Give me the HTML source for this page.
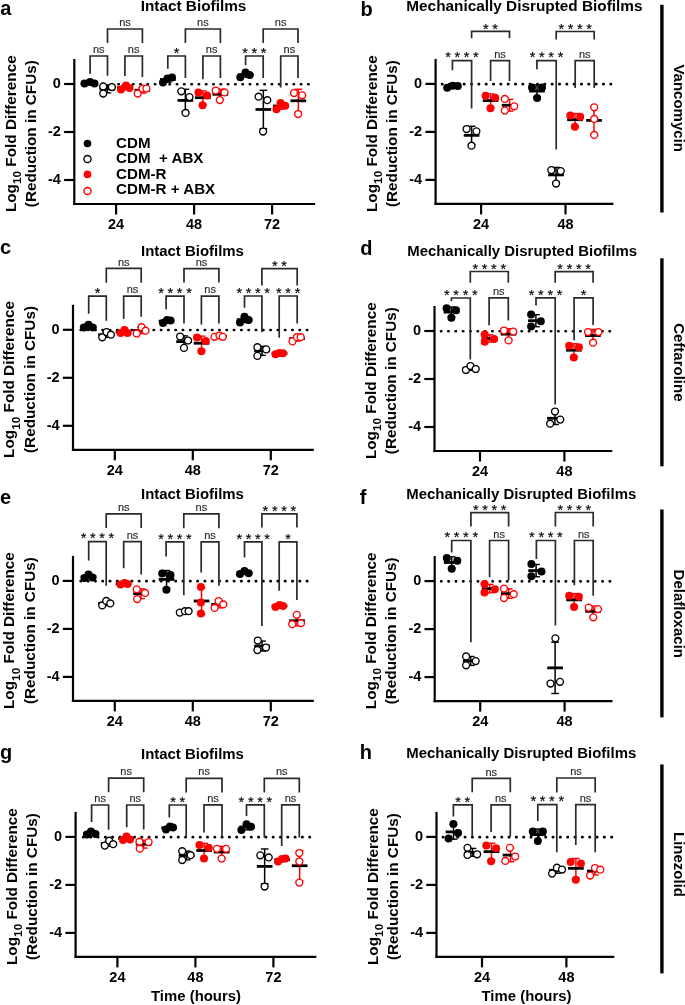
<!DOCTYPE html>
<html><head><meta charset="utf-8"><style>
html,body{margin:0;padding:0;background:#fff;}
svg{display:block;font-family:"Liberation Sans", sans-serif;filter:blur(0.4px);}
</style></head><body>
<svg width="685" height="1005" viewBox="0 0 685 1005">
<rect width="685" height="1005" fill="#fff"/>
<line x1="308.60" y1="84.25" x2="79.80" y2="84.25" stroke="#000" stroke-width="2.6" stroke-linecap="round" stroke-dasharray="0.4 6.90"/>
<line x1="74.30" y1="59.00" x2="74.30" y2="205.10" stroke="#000" stroke-width="2.2" />
<line x1="73.20" y1="204.00" x2="315.10" y2="204.00" stroke="#000" stroke-width="2.2" />
<line x1="64.10" y1="84.00" x2="74.30" y2="84.00" stroke="#000" stroke-width="2.2" />
<text x="60.90" y="88.30" font-size="14.5" font-weight="bold" text-anchor="end" fill="#000" >0</text>
<line x1="64.10" y1="132.00" x2="74.30" y2="132.00" stroke="#000" stroke-width="2.2" />
<text x="60.90" y="136.30" font-size="14.5" font-weight="bold" text-anchor="end" fill="#000" >-2</text>
<line x1="64.10" y1="180.00" x2="74.30" y2="180.00" stroke="#000" stroke-width="2.2" />
<text x="60.90" y="184.30" font-size="14.5" font-weight="bold" text-anchor="end" fill="#000" >-4</text>
<line x1="116.10" y1="204.00" x2="116.10" y2="214.50" stroke="#000" stroke-width="2.2" />
<text x="116.10" y="229.20" font-size="14.5" font-weight="bold" text-anchor="middle" fill="#000" >24</text>
<line x1="194.10" y1="204.00" x2="194.10" y2="214.50" stroke="#000" stroke-width="2.2" />
<text x="194.10" y="229.20" font-size="14.5" font-weight="bold" text-anchor="middle" fill="#000" >48</text>
<line x1="272.10" y1="204.00" x2="272.10" y2="214.50" stroke="#000" stroke-width="2.2" />
<text x="272.10" y="229.20" font-size="14.5" font-weight="bold" text-anchor="middle" fill="#000" >72</text>
<text transform="translate(15.60,133.70) rotate(-90)" font-size="15.3" font-weight="bold" text-anchor="middle">Log<tspan font-size="11.8" dy="5.2">10</tspan><tspan dy="-5.2"> Fold Difference</tspan></text>
<text transform="translate(36.00,133.70) rotate(-90)" font-size="15.3" font-weight="bold" text-anchor="middle">(Reduction in CFUs)</text>
<text x="140.70" y="10.80" font-size="15.35" font-weight="bold" text-anchor="start" fill="#000" >Intact Biofilms</text>
<text x="0.30" y="14.90" font-size="20" font-weight="bold" text-anchor="start" fill="#000" >a</text>
<line x1="611.00" y1="84.15" x2="441.10" y2="84.15" stroke="#000" stroke-width="2.6" stroke-linecap="round" stroke-dasharray="0.4 6.93"/>
<line x1="435.60" y1="58.90" x2="435.60" y2="205.00" stroke="#000" stroke-width="2.2" />
<line x1="434.50" y1="203.90" x2="613.40" y2="203.90" stroke="#000" stroke-width="2.2" />
<line x1="425.40" y1="83.90" x2="435.60" y2="83.90" stroke="#000" stroke-width="2.2" />
<text x="422.20" y="88.20" font-size="14.5" font-weight="bold" text-anchor="end" fill="#000" >0</text>
<line x1="425.40" y1="131.90" x2="435.60" y2="131.90" stroke="#000" stroke-width="2.2" />
<text x="422.20" y="136.20" font-size="14.5" font-weight="bold" text-anchor="end" fill="#000" >-2</text>
<line x1="425.40" y1="179.90" x2="435.60" y2="179.90" stroke="#000" stroke-width="2.2" />
<text x="422.20" y="184.20" font-size="14.5" font-weight="bold" text-anchor="end" fill="#000" >-4</text>
<line x1="481.10" y1="203.90" x2="481.10" y2="214.40" stroke="#000" stroke-width="2.2" />
<text x="481.10" y="229.10" font-size="14.5" font-weight="bold" text-anchor="middle" fill="#000" >24</text>
<line x1="565.50" y1="203.90" x2="565.50" y2="214.40" stroke="#000" stroke-width="2.2" />
<text x="565.50" y="229.10" font-size="14.5" font-weight="bold" text-anchor="middle" fill="#000" >48</text>
<text transform="translate(376.90,133.60) rotate(-90)" font-size="15.3" font-weight="bold" text-anchor="middle">Log<tspan font-size="11.8" dy="5.2">10</tspan><tspan dy="-5.2"> Fold Difference</tspan></text>
<text transform="translate(397.30,133.60) rotate(-90)" font-size="15.3" font-weight="bold" text-anchor="middle">(Reduction in CFUs)</text>
<text x="406.30" y="10.80" font-size="15.35" font-weight="bold" text-anchor="start" fill="#000" >Mechanically Disrupted Biofilms</text>
<text x="360.50" y="15.60" font-size="20" font-weight="bold" text-anchor="start" fill="#000" >b</text>
<line x1="307.30" y1="330.05" x2="78.50" y2="330.05" stroke="#000" stroke-width="2.6" stroke-linecap="round" stroke-dasharray="0.4 6.90"/>
<line x1="73.00" y1="304.80" x2="73.00" y2="450.90" stroke="#000" stroke-width="2.2" />
<line x1="71.90" y1="449.80" x2="313.80" y2="449.80" stroke="#000" stroke-width="2.2" />
<line x1="62.80" y1="329.80" x2="73.00" y2="329.80" stroke="#000" stroke-width="2.2" />
<text x="59.60" y="334.10" font-size="14.5" font-weight="bold" text-anchor="end" fill="#000" >0</text>
<line x1="62.80" y1="377.80" x2="73.00" y2="377.80" stroke="#000" stroke-width="2.2" />
<text x="59.60" y="382.10" font-size="14.5" font-weight="bold" text-anchor="end" fill="#000" >-2</text>
<line x1="62.80" y1="425.80" x2="73.00" y2="425.80" stroke="#000" stroke-width="2.2" />
<text x="59.60" y="430.10" font-size="14.5" font-weight="bold" text-anchor="end" fill="#000" >-4</text>
<line x1="114.80" y1="449.80" x2="114.80" y2="460.30" stroke="#000" stroke-width="2.2" />
<text x="114.80" y="475.00" font-size="14.5" font-weight="bold" text-anchor="middle" fill="#000" >24</text>
<line x1="192.80" y1="449.80" x2="192.80" y2="460.30" stroke="#000" stroke-width="2.2" />
<text x="192.80" y="475.00" font-size="14.5" font-weight="bold" text-anchor="middle" fill="#000" >48</text>
<line x1="270.80" y1="449.80" x2="270.80" y2="460.30" stroke="#000" stroke-width="2.2" />
<text x="270.80" y="475.00" font-size="14.5" font-weight="bold" text-anchor="middle" fill="#000" >72</text>
<text transform="translate(14.30,379.50) rotate(-90)" font-size="15.3" font-weight="bold" text-anchor="middle">Log<tspan font-size="11.8" dy="5.2">10</tspan><tspan dy="-5.2"> Fold Difference</tspan></text>
<text transform="translate(34.70,379.50) rotate(-90)" font-size="15.3" font-weight="bold" text-anchor="middle">(Reduction in CFUs)</text>
<text x="141.00" y="256.00" font-size="14.95" font-weight="bold" text-anchor="start" fill="#000" >Intact Biofilms</text>
<text x="0.00" y="254.20" font-size="20" font-weight="bold" text-anchor="start" fill="#000" >c</text>
<line x1="609.90" y1="331.25" x2="440.00" y2="331.25" stroke="#000" stroke-width="2.6" stroke-linecap="round" stroke-dasharray="0.4 6.93"/>
<line x1="434.50" y1="306.00" x2="434.50" y2="452.10" stroke="#000" stroke-width="2.2" />
<line x1="433.40" y1="451.00" x2="612.30" y2="451.00" stroke="#000" stroke-width="2.2" />
<line x1="424.30" y1="331.00" x2="434.50" y2="331.00" stroke="#000" stroke-width="2.2" />
<text x="421.10" y="335.30" font-size="14.5" font-weight="bold" text-anchor="end" fill="#000" >0</text>
<line x1="424.30" y1="379.00" x2="434.50" y2="379.00" stroke="#000" stroke-width="2.2" />
<text x="421.10" y="383.30" font-size="14.5" font-weight="bold" text-anchor="end" fill="#000" >-2</text>
<line x1="424.30" y1="427.00" x2="434.50" y2="427.00" stroke="#000" stroke-width="2.2" />
<text x="421.10" y="431.30" font-size="14.5" font-weight="bold" text-anchor="end" fill="#000" >-4</text>
<line x1="480.00" y1="451.00" x2="480.00" y2="461.50" stroke="#000" stroke-width="2.2" />
<text x="480.00" y="476.20" font-size="14.5" font-weight="bold" text-anchor="middle" fill="#000" >24</text>
<line x1="564.40" y1="451.00" x2="564.40" y2="461.50" stroke="#000" stroke-width="2.2" />
<text x="564.40" y="476.20" font-size="14.5" font-weight="bold" text-anchor="middle" fill="#000" >48</text>
<text transform="translate(375.80,380.70) rotate(-90)" font-size="15.3" font-weight="bold" text-anchor="middle">Log<tspan font-size="11.8" dy="5.2">10</tspan><tspan dy="-5.2"> Fold Difference</tspan></text>
<text transform="translate(396.20,380.70) rotate(-90)" font-size="15.3" font-weight="bold" text-anchor="middle">(Reduction in CFUs)</text>
<text x="407.20" y="255.90" font-size="14.95" font-weight="bold" text-anchor="start" fill="#000" >Mechanically Disrupted Biofilms</text>
<text x="360.30" y="255.00" font-size="20" font-weight="bold" text-anchor="start" fill="#000" >d</text>
<line x1="307.30" y1="581.15" x2="78.50" y2="581.15" stroke="#000" stroke-width="2.6" stroke-linecap="round" stroke-dasharray="0.4 6.90"/>
<line x1="73.00" y1="555.90" x2="73.00" y2="702.00" stroke="#000" stroke-width="2.2" />
<line x1="71.90" y1="700.90" x2="313.80" y2="700.90" stroke="#000" stroke-width="2.2" />
<line x1="62.80" y1="580.90" x2="73.00" y2="580.90" stroke="#000" stroke-width="2.2" />
<text x="59.60" y="585.20" font-size="14.5" font-weight="bold" text-anchor="end" fill="#000" >0</text>
<line x1="62.80" y1="628.90" x2="73.00" y2="628.90" stroke="#000" stroke-width="2.2" />
<text x="59.60" y="633.20" font-size="14.5" font-weight="bold" text-anchor="end" fill="#000" >-2</text>
<line x1="62.80" y1="676.90" x2="73.00" y2="676.90" stroke="#000" stroke-width="2.2" />
<text x="59.60" y="681.20" font-size="14.5" font-weight="bold" text-anchor="end" fill="#000" >-4</text>
<line x1="114.80" y1="700.90" x2="114.80" y2="711.40" stroke="#000" stroke-width="2.2" />
<text x="114.80" y="726.10" font-size="14.5" font-weight="bold" text-anchor="middle" fill="#000" >24</text>
<line x1="192.80" y1="700.90" x2="192.80" y2="711.40" stroke="#000" stroke-width="2.2" />
<text x="192.80" y="726.10" font-size="14.5" font-weight="bold" text-anchor="middle" fill="#000" >48</text>
<line x1="270.80" y1="700.90" x2="270.80" y2="711.40" stroke="#000" stroke-width="2.2" />
<text x="270.80" y="726.10" font-size="14.5" font-weight="bold" text-anchor="middle" fill="#000" >72</text>
<text transform="translate(14.30,630.60) rotate(-90)" font-size="15.3" font-weight="bold" text-anchor="middle">Log<tspan font-size="11.8" dy="5.2">10</tspan><tspan dy="-5.2"> Fold Difference</tspan></text>
<text transform="translate(34.70,630.60) rotate(-90)" font-size="15.3" font-weight="bold" text-anchor="middle">(Reduction in CFUs)</text>
<text x="141.00" y="499.00" font-size="14.95" font-weight="bold" text-anchor="start" fill="#000" >Intact Biofilms</text>
<text x="0.00" y="503.60" font-size="20" font-weight="bold" text-anchor="start" fill="#000" >e</text>
<line x1="610.10" y1="581.35" x2="440.20" y2="581.35" stroke="#000" stroke-width="2.6" stroke-linecap="round" stroke-dasharray="0.4 6.93"/>
<line x1="434.70" y1="556.10" x2="434.70" y2="702.20" stroke="#000" stroke-width="2.2" />
<line x1="433.60" y1="701.10" x2="612.50" y2="701.10" stroke="#000" stroke-width="2.2" />
<line x1="424.50" y1="581.10" x2="434.70" y2="581.10" stroke="#000" stroke-width="2.2" />
<text x="421.30" y="585.40" font-size="14.5" font-weight="bold" text-anchor="end" fill="#000" >0</text>
<line x1="424.50" y1="629.10" x2="434.70" y2="629.10" stroke="#000" stroke-width="2.2" />
<text x="421.30" y="633.40" font-size="14.5" font-weight="bold" text-anchor="end" fill="#000" >-2</text>
<line x1="424.50" y1="677.10" x2="434.70" y2="677.10" stroke="#000" stroke-width="2.2" />
<text x="421.30" y="681.40" font-size="14.5" font-weight="bold" text-anchor="end" fill="#000" >-4</text>
<line x1="480.20" y1="701.10" x2="480.20" y2="711.60" stroke="#000" stroke-width="2.2" />
<text x="480.20" y="726.30" font-size="14.5" font-weight="bold" text-anchor="middle" fill="#000" >24</text>
<line x1="564.60" y1="701.10" x2="564.60" y2="711.60" stroke="#000" stroke-width="2.2" />
<text x="564.60" y="726.30" font-size="14.5" font-weight="bold" text-anchor="middle" fill="#000" >48</text>
<text transform="translate(376.00,630.80) rotate(-90)" font-size="15.3" font-weight="bold" text-anchor="middle">Log<tspan font-size="11.8" dy="5.2">10</tspan><tspan dy="-5.2"> Fold Difference</tspan></text>
<text transform="translate(396.40,630.80) rotate(-90)" font-size="15.3" font-weight="bold" text-anchor="middle">(Reduction in CFUs)</text>
<text x="406.30" y="499.40" font-size="14.95" font-weight="bold" text-anchor="start" fill="#000" >Mechanically Disrupted Biofilms</text>
<text x="359.80" y="503.70" font-size="20" font-weight="bold" text-anchor="start" fill="#000" >f</text>
<line x1="309.90" y1="837.15" x2="81.10" y2="837.15" stroke="#000" stroke-width="2.6" stroke-linecap="round" stroke-dasharray="0.4 6.90"/>
<line x1="75.60" y1="811.90" x2="75.60" y2="958.00" stroke="#000" stroke-width="2.2" />
<line x1="74.50" y1="956.90" x2="316.40" y2="956.90" stroke="#000" stroke-width="2.2" />
<line x1="65.40" y1="836.90" x2="75.60" y2="836.90" stroke="#000" stroke-width="2.2" />
<text x="62.20" y="841.20" font-size="14.5" font-weight="bold" text-anchor="end" fill="#000" >0</text>
<line x1="65.40" y1="884.90" x2="75.60" y2="884.90" stroke="#000" stroke-width="2.2" />
<text x="62.20" y="889.20" font-size="14.5" font-weight="bold" text-anchor="end" fill="#000" >-2</text>
<line x1="65.40" y1="932.90" x2="75.60" y2="932.90" stroke="#000" stroke-width="2.2" />
<text x="62.20" y="937.20" font-size="14.5" font-weight="bold" text-anchor="end" fill="#000" >-4</text>
<line x1="117.40" y1="956.90" x2="117.40" y2="967.40" stroke="#000" stroke-width="2.2" />
<text x="117.40" y="982.10" font-size="14.5" font-weight="bold" text-anchor="middle" fill="#000" >24</text>
<line x1="195.40" y1="956.90" x2="195.40" y2="967.40" stroke="#000" stroke-width="2.2" />
<text x="195.40" y="982.10" font-size="14.5" font-weight="bold" text-anchor="middle" fill="#000" >48</text>
<line x1="273.40" y1="956.90" x2="273.40" y2="967.40" stroke="#000" stroke-width="2.2" />
<text x="273.40" y="982.10" font-size="14.5" font-weight="bold" text-anchor="middle" fill="#000" >72</text>
<text transform="translate(16.90,886.60) rotate(-90)" font-size="15.3" font-weight="bold" text-anchor="middle">Log<tspan font-size="11.8" dy="5.2">10</tspan><tspan dy="-5.2"> Fold Difference</tspan></text>
<text transform="translate(37.30,886.60) rotate(-90)" font-size="15.3" font-weight="bold" text-anchor="middle">(Reduction in CFUs)</text>
<text x="141.00" y="758.80" font-size="14.95" font-weight="bold" text-anchor="start" fill="#000" >Intact Biofilms</text>
<text x="0.00" y="758.50" font-size="20" font-weight="bold" text-anchor="start" fill="#000" >g</text>
<line x1="611.90" y1="837.15" x2="442.00" y2="837.15" stroke="#000" stroke-width="2.6" stroke-linecap="round" stroke-dasharray="0.4 6.93"/>
<line x1="436.50" y1="811.90" x2="436.50" y2="958.00" stroke="#000" stroke-width="2.2" />
<line x1="435.40" y1="956.90" x2="614.30" y2="956.90" stroke="#000" stroke-width="2.2" />
<line x1="426.30" y1="836.90" x2="436.50" y2="836.90" stroke="#000" stroke-width="2.2" />
<text x="423.10" y="841.20" font-size="14.5" font-weight="bold" text-anchor="end" fill="#000" >0</text>
<line x1="426.30" y1="884.90" x2="436.50" y2="884.90" stroke="#000" stroke-width="2.2" />
<text x="423.10" y="889.20" font-size="14.5" font-weight="bold" text-anchor="end" fill="#000" >-2</text>
<line x1="426.30" y1="932.90" x2="436.50" y2="932.90" stroke="#000" stroke-width="2.2" />
<text x="423.10" y="937.20" font-size="14.5" font-weight="bold" text-anchor="end" fill="#000" >-4</text>
<line x1="482.00" y1="956.90" x2="482.00" y2="967.40" stroke="#000" stroke-width="2.2" />
<text x="482.00" y="982.10" font-size="14.5" font-weight="bold" text-anchor="middle" fill="#000" >24</text>
<line x1="566.40" y1="956.90" x2="566.40" y2="967.40" stroke="#000" stroke-width="2.2" />
<text x="566.40" y="982.10" font-size="14.5" font-weight="bold" text-anchor="middle" fill="#000" >48</text>
<text transform="translate(377.80,886.60) rotate(-90)" font-size="15.3" font-weight="bold" text-anchor="middle">Log<tspan font-size="11.8" dy="5.2">10</tspan><tspan dy="-5.2"> Fold Difference</tspan></text>
<text transform="translate(398.20,886.60) rotate(-90)" font-size="15.3" font-weight="bold" text-anchor="middle">(Reduction in CFUs)</text>
<text x="406.30" y="758.40" font-size="14.95" font-weight="bold" text-anchor="start" fill="#000" >Mechanically Disrupted Biofilms</text>
<text x="359.80" y="758.70" font-size="20" font-weight="bold" text-anchor="start" fill="#000" >h</text>
<line x1="661.90" y1="4.80" x2="661.90" y2="212.50" stroke="#000" stroke-width="3.4" />
<text transform="translate(673.6,108.20) rotate(90)" font-size="15" font-weight="bold" text-anchor="middle">Vancomycin</text>
<line x1="661.90" y1="258.30" x2="661.90" y2="466.30" stroke="#000" stroke-width="3.4" />
<text transform="translate(673.6,362.30) rotate(90)" font-size="15" font-weight="bold" text-anchor="middle">Ceftaroline</text>
<line x1="661.90" y1="509.50" x2="661.90" y2="717.40" stroke="#000" stroke-width="3.4" />
<text transform="translate(673.6,613.80) rotate(90)" font-size="15" font-weight="bold" text-anchor="middle">Delafloxacin</text>
<line x1="661.90" y1="764.50" x2="661.90" y2="973.40" stroke="#000" stroke-width="3.4" />
<text transform="translate(673.6,864.50) rotate(90)" font-size="15" font-weight="bold" text-anchor="middle">Linezolid</text>
<text x="196.00" y="1001.00" font-size="14.9" font-weight="bold" text-anchor="middle" fill="#000" >Time (hours)</text>
<text x="526.50" y="1001.00" font-size="14.9" font-weight="bold" text-anchor="middle" fill="#000" >Time (hours)</text>
<circle cx="87.5" cy="143.50" r="3.8" fill="#000"/>
<text x="116.10" y="147.80" font-size="15.15" font-weight="bold" text-anchor="start" fill="#000" >CDM</text>
<circle cx="87.5" cy="159.00" r="3.55" fill="#fff" stroke="#000" stroke-width="1.4"/>
<text x="116.10" y="163.35" font-size="15.15" font-weight="bold" text-anchor="start" fill="#000" >CDM&#160; + ABX</text>
<circle cx="87.5" cy="174.40" r="3.8" fill="#f00"/>
<text x="116.10" y="178.90" font-size="15.15" font-weight="bold" text-anchor="start" fill="#000" >CDM-R</text>
<circle cx="87.5" cy="191.00" r="3.55" fill="#fff" stroke="#f00" stroke-width="1.4"/>
<text x="116.10" y="194.45" font-size="15.15" font-weight="bold" text-anchor="start" fill="#000" >CDM-R + ABX</text>
<path d="M90.10,73.70 V56.00 H107.50 V75.70" fill="none" stroke="#2a2a2a" stroke-width="1.7"/>
<text x="98.80" y="53.10" font-size="11" font-weight="normal" text-anchor="middle" fill="#2a2a2a" stroke="#2a2a2a" stroke-width="0.15">ns</text>
<path d="M124.90,76.00 V56.00 H142.40 V77.00" fill="none" stroke="#2a2a2a" stroke-width="1.7"/>
<text x="133.65" y="53.10" font-size="11" font-weight="normal" text-anchor="middle" fill="#2a2a2a" stroke="#2a2a2a" stroke-width="0.15">ns</text>
<path d="M107.50,43.00 V29.00 H142.40 V43.00" fill="none" stroke="#2a2a2a" stroke-width="1.7"/>
<text x="124.95" y="26.10" font-size="11" font-weight="normal" text-anchor="middle" fill="#2a2a2a" stroke="#2a2a2a" stroke-width="0.15">ns</text>
<path d="M167.80,68.70 V56.00 H185.40 V78.10" fill="none" stroke="#2a2a2a" stroke-width="1.7"/>
<text x="176.60" y="57.70" font-size="14.5" font-weight="normal" text-anchor="middle" fill="#000" stroke="#000" stroke-width="0.15">*</text>
<path d="M202.90,79.20 V56.00 H220.40 V78.10" fill="none" stroke="#2a2a2a" stroke-width="1.7"/>
<text x="211.65" y="53.10" font-size="11" font-weight="normal" text-anchor="middle" fill="#2a2a2a" stroke="#2a2a2a" stroke-width="0.15">ns</text>
<path d="M185.40,43.00 V29.00 H220.40 V43.00" fill="none" stroke="#2a2a2a" stroke-width="1.7"/>
<text x="202.90" y="26.10" font-size="11" font-weight="normal" text-anchor="middle" fill="#2a2a2a" stroke="#2a2a2a" stroke-width="0.15">ns</text>
<path d="M245.60,65.20 V56.00 H263.20 V78.10" fill="none" stroke="#2a2a2a" stroke-width="1.7"/>
<text x="245.10" y="57.70" font-size="14.5" font-weight="normal" text-anchor="middle" fill="#000" stroke="#000" stroke-width="0.15">*</text>
<text x="254.40" y="57.70" font-size="14.5" font-weight="normal" text-anchor="middle" fill="#000" stroke="#000" stroke-width="0.15">*</text>
<text x="263.70" y="57.70" font-size="14.5" font-weight="normal" text-anchor="middle" fill="#000" stroke="#000" stroke-width="0.15">*</text>
<path d="M280.70,87.40 V56.00 H298.00 V78.10" fill="none" stroke="#2a2a2a" stroke-width="1.7"/>
<text x="289.35" y="53.10" font-size="11" font-weight="normal" text-anchor="middle" fill="#2a2a2a" stroke="#2a2a2a" stroke-width="0.15">ns</text>
<path d="M263.20,43.00 V29.00 H298.00 V43.00" fill="none" stroke="#2a2a2a" stroke-width="1.7"/>
<text x="280.60" y="26.10" font-size="11" font-weight="normal" text-anchor="middle" fill="#2a2a2a" stroke="#2a2a2a" stroke-width="0.15">ns</text>
<line x1="89.85" y1="82.13" x2="89.85" y2="83.87" stroke="#000" stroke-width="1.5" />
<line x1="86.00" y1="82.13" x2="93.70" y2="82.13" stroke="#000" stroke-width="1.4" />
<line x1="86.00" y1="83.87" x2="93.70" y2="83.87" stroke="#000" stroke-width="1.4" />
<line x1="82.00" y1="83.00" x2="97.70" y2="83.00" stroke="#000" stroke-width="2.8" />
<circle cx="84.50" cy="83.50" r="4.0" fill="#000"/>
<circle cx="90.00" cy="82.00" r="4.0" fill="#000"/>
<circle cx="94.50" cy="83.50" r="4.0" fill="#000"/>
<line x1="107.35" y1="85.03" x2="107.35" y2="92.90" stroke="#000" stroke-width="1.5" />
<line x1="103.50" y1="85.03" x2="111.20" y2="85.03" stroke="#000" stroke-width="1.4" />
<line x1="103.50" y1="92.90" x2="111.20" y2="92.90" stroke="#000" stroke-width="1.4" />
<line x1="99.50" y1="88.97" x2="115.20" y2="88.97" stroke="#000" stroke-width="2.8" />
<circle cx="103.20" cy="86.40" r="3.45" fill="#fff" stroke="#000" stroke-width="1.35"/>
<circle cx="111.90" cy="87.00" r="3.45" fill="#fff" stroke="#000" stroke-width="1.35"/>
<circle cx="103.20" cy="93.50" r="3.45" fill="#fff" stroke="#000" stroke-width="1.35"/>
<line x1="124.85" y1="85.65" x2="124.85" y2="89.69" stroke="#f00" stroke-width="1.5" />
<line x1="121.00" y1="85.65" x2="128.70" y2="85.65" stroke="#f00" stroke-width="1.4" />
<line x1="121.00" y1="89.69" x2="128.70" y2="89.69" stroke="#f00" stroke-width="1.4" />
<line x1="117.00" y1="87.67" x2="132.70" y2="87.67" stroke="#000" stroke-width="2.8" />
<circle cx="121.00" cy="89.50" r="4.0" fill="#f00"/>
<circle cx="126.00" cy="85.50" r="4.0" fill="#f00"/>
<circle cx="129.50" cy="88.00" r="4.0" fill="#f00"/>
<line x1="142.35" y1="87.40" x2="142.35" y2="93.06" stroke="#f00" stroke-width="1.5" />
<line x1="138.50" y1="87.40" x2="146.20" y2="87.40" stroke="#f00" stroke-width="1.4" />
<line x1="138.50" y1="93.06" x2="146.20" y2="93.06" stroke="#f00" stroke-width="1.4" />
<line x1="134.50" y1="90.23" x2="150.20" y2="90.23" stroke="#000" stroke-width="2.8" />
<circle cx="137.70" cy="93.50" r="3.45" fill="#fff" stroke="#f00" stroke-width="1.35"/>
<circle cx="142.60" cy="88.60" r="3.45" fill="#fff" stroke="#f00" stroke-width="1.35"/>
<circle cx="146.40" cy="88.60" r="3.45" fill="#fff" stroke="#f00" stroke-width="1.35"/>
<line x1="167.85" y1="76.85" x2="167.85" y2="82.15" stroke="#000" stroke-width="1.5" />
<line x1="164.00" y1="76.85" x2="171.70" y2="76.85" stroke="#000" stroke-width="1.4" />
<line x1="164.00" y1="82.15" x2="171.70" y2="82.15" stroke="#000" stroke-width="1.4" />
<line x1="160.00" y1="79.50" x2="175.70" y2="79.50" stroke="#000" stroke-width="2.8" />
<circle cx="163.00" cy="82.50" r="4.0" fill="#000"/>
<circle cx="167.50" cy="78.50" r="4.0" fill="#000"/>
<circle cx="172.00" cy="77.50" r="4.0" fill="#000"/>
<line x1="185.35" y1="89.25" x2="185.35" y2="111.61" stroke="#000" stroke-width="1.5" />
<line x1="181.50" y1="89.25" x2="189.20" y2="89.25" stroke="#000" stroke-width="1.4" />
<line x1="181.50" y1="111.61" x2="189.20" y2="111.61" stroke="#000" stroke-width="1.4" />
<line x1="177.50" y1="100.43" x2="193.20" y2="100.43" stroke="#000" stroke-width="2.8" />
<circle cx="181.30" cy="91.30" r="3.45" fill="#fff" stroke="#000" stroke-width="1.35"/>
<circle cx="189.50" cy="97.10" r="3.45" fill="#fff" stroke="#000" stroke-width="1.35"/>
<circle cx="185.60" cy="112.90" r="3.45" fill="#fff" stroke="#000" stroke-width="1.35"/>
<line x1="202.85" y1="90.95" x2="202.85" y2="104.45" stroke="#f00" stroke-width="1.5" />
<line x1="199.00" y1="90.95" x2="206.70" y2="90.95" stroke="#f00" stroke-width="1.4" />
<line x1="199.00" y1="104.45" x2="206.70" y2="104.45" stroke="#f00" stroke-width="1.4" />
<line x1="195.00" y1="97.70" x2="210.70" y2="97.70" stroke="#000" stroke-width="2.8" />
<circle cx="198.40" cy="92.40" r="4.0" fill="#f00"/>
<circle cx="207.00" cy="95.40" r="4.0" fill="#f00"/>
<circle cx="202.60" cy="105.30" r="4.0" fill="#f00"/>
<line x1="220.35" y1="89.27" x2="220.35" y2="99.33" stroke="#f00" stroke-width="1.5" />
<line x1="216.50" y1="89.27" x2="224.20" y2="89.27" stroke="#f00" stroke-width="1.4" />
<line x1="216.50" y1="99.33" x2="224.20" y2="99.33" stroke="#f00" stroke-width="1.4" />
<line x1="212.50" y1="94.30" x2="228.20" y2="94.30" stroke="#000" stroke-width="2.8" />
<circle cx="215.70" cy="90.50" r="3.45" fill="#fff" stroke="#f00" stroke-width="1.35"/>
<circle cx="224.50" cy="92.40" r="3.45" fill="#fff" stroke="#f00" stroke-width="1.35"/>
<circle cx="219.80" cy="100.00" r="3.45" fill="#fff" stroke="#f00" stroke-width="1.35"/>
<line x1="245.85" y1="72.52" x2="245.85" y2="77.22" stroke="#000" stroke-width="1.5" />
<line x1="242.00" y1="72.52" x2="249.70" y2="72.52" stroke="#000" stroke-width="1.4" />
<line x1="242.00" y1="77.22" x2="249.70" y2="77.22" stroke="#000" stroke-width="1.4" />
<line x1="238.00" y1="74.87" x2="253.70" y2="74.87" stroke="#000" stroke-width="2.8" />
<circle cx="240.30" cy="77.20" r="4.0" fill="#000"/>
<circle cx="245.50" cy="72.50" r="4.0" fill="#000"/>
<circle cx="249.60" cy="74.90" r="4.0" fill="#000"/>
<line x1="263.35" y1="90.31" x2="263.35" y2="128.63" stroke="#000" stroke-width="1.5" />
<line x1="259.50" y1="90.31" x2="267.20" y2="90.31" stroke="#000" stroke-width="1.4" />
<line x1="259.50" y1="128.63" x2="267.20" y2="128.63" stroke="#000" stroke-width="1.4" />
<line x1="255.50" y1="109.47" x2="271.20" y2="109.47" stroke="#000" stroke-width="2.8" />
<circle cx="258.60" cy="96.70" r="3.45" fill="#fff" stroke="#000" stroke-width="1.35"/>
<circle cx="267.30" cy="100.20" r="3.45" fill="#fff" stroke="#000" stroke-width="1.35"/>
<circle cx="263.10" cy="131.50" r="3.45" fill="#fff" stroke="#000" stroke-width="1.35"/>
<line x1="280.85" y1="102.80" x2="280.85" y2="109.20" stroke="#f00" stroke-width="1.5" />
<line x1="277.00" y1="102.80" x2="284.70" y2="102.80" stroke="#f00" stroke-width="1.4" />
<line x1="277.00" y1="109.20" x2="284.70" y2="109.20" stroke="#f00" stroke-width="1.4" />
<line x1="273.00" y1="106.00" x2="288.70" y2="106.00" stroke="#000" stroke-width="2.8" />
<circle cx="276.50" cy="109.30" r="4.0" fill="#f00"/>
<circle cx="280.50" cy="102.90" r="4.0" fill="#f00"/>
<circle cx="285.20" cy="105.80" r="4.0" fill="#f00"/>
<line x1="298.35" y1="89.25" x2="298.35" y2="112.28" stroke="#f00" stroke-width="1.5" />
<line x1="294.50" y1="89.25" x2="302.20" y2="89.25" stroke="#f00" stroke-width="1.4" />
<line x1="294.50" y1="112.28" x2="302.20" y2="112.28" stroke="#f00" stroke-width="1.4" />
<line x1="290.50" y1="100.77" x2="306.20" y2="100.77" stroke="#000" stroke-width="2.8" />
<circle cx="294.00" cy="93.00" r="3.45" fill="#fff" stroke="#f00" stroke-width="1.35"/>
<circle cx="302.20" cy="95.30" r="3.45" fill="#fff" stroke="#f00" stroke-width="1.35"/>
<circle cx="298.10" cy="114.00" r="3.45" fill="#fff" stroke="#f00" stroke-width="1.35"/>
<path d="M452.40,70.20 V60.70 H471.60 V108.50" fill="none" stroke="#2a2a2a" stroke-width="1.7"/>
<text x="448.05" y="62.40" font-size="14.5" font-weight="normal" text-anchor="middle" fill="#000" stroke="#000" stroke-width="0.15">*</text>
<text x="457.35" y="62.40" font-size="14.5" font-weight="normal" text-anchor="middle" fill="#000" stroke="#000" stroke-width="0.15">*</text>
<text x="466.65" y="62.40" font-size="14.5" font-weight="normal" text-anchor="middle" fill="#000" stroke="#000" stroke-width="0.15">*</text>
<text x="475.95" y="62.40" font-size="14.5" font-weight="normal" text-anchor="middle" fill="#000" stroke="#000" stroke-width="0.15">*</text>
<path d="M490.60,81.00 V60.70 H509.50 V81.00" fill="none" stroke="#2a2a2a" stroke-width="1.7"/>
<text x="500.05" y="57.80" font-size="11" font-weight="normal" text-anchor="middle" fill="#2a2a2a" stroke="#2a2a2a" stroke-width="0.15">ns</text>
<path d="M471.60,38.30 V31.40 H509.50 V38.30" fill="none" stroke="#2a2a2a" stroke-width="1.7"/>
<text x="485.90" y="33.90" font-size="14.5" font-weight="normal" text-anchor="middle" fill="#000" stroke="#000" stroke-width="0.15">*</text>
<text x="495.20" y="33.90" font-size="14.5" font-weight="normal" text-anchor="middle" fill="#000" stroke="#000" stroke-width="0.15">*</text>
<path d="M536.90,69.20 V60.60 H556.20 V149.40" fill="none" stroke="#2a2a2a" stroke-width="1.7"/>
<text x="532.60" y="62.30" font-size="14.5" font-weight="normal" text-anchor="middle" fill="#000" stroke="#000" stroke-width="0.15">*</text>
<text x="541.90" y="62.30" font-size="14.5" font-weight="normal" text-anchor="middle" fill="#000" stroke="#000" stroke-width="0.15">*</text>
<text x="551.20" y="62.30" font-size="14.5" font-weight="normal" text-anchor="middle" fill="#000" stroke="#000" stroke-width="0.15">*</text>
<text x="560.50" y="62.30" font-size="14.5" font-weight="normal" text-anchor="middle" fill="#000" stroke="#000" stroke-width="0.15">*</text>
<path d="M575.20,88.00 V60.60 H594.20 V88.00" fill="none" stroke="#2a2a2a" stroke-width="1.7"/>
<text x="584.70" y="57.70" font-size="11" font-weight="normal" text-anchor="middle" fill="#2a2a2a" stroke="#2a2a2a" stroke-width="0.15">ns</text>
<path d="M556.20,39.40 V31.50 H594.20 V39.40" fill="none" stroke="#2a2a2a" stroke-width="1.7"/>
<text x="561.25" y="34.00" font-size="14.5" font-weight="normal" text-anchor="middle" fill="#000" stroke="#000" stroke-width="0.15">*</text>
<text x="570.55" y="34.00" font-size="14.5" font-weight="normal" text-anchor="middle" fill="#000" stroke="#000" stroke-width="0.15">*</text>
<text x="579.85" y="34.00" font-size="14.5" font-weight="normal" text-anchor="middle" fill="#000" stroke="#000" stroke-width="0.15">*</text>
<text x="589.15" y="34.00" font-size="14.5" font-weight="normal" text-anchor="middle" fill="#000" stroke="#000" stroke-width="0.15">*</text>
<line x1="452.60" y1="85.42" x2="452.60" y2="87.65" stroke="#000" stroke-width="1.5" />
<line x1="448.75" y1="85.42" x2="456.45" y2="85.42" stroke="#000" stroke-width="1.4" />
<line x1="448.75" y1="87.65" x2="456.45" y2="87.65" stroke="#000" stroke-width="1.4" />
<line x1="444.75" y1="86.53" x2="460.45" y2="86.53" stroke="#000" stroke-width="2.8" />
<circle cx="447.20" cy="87.80" r="4.0" fill="#000"/>
<circle cx="452.80" cy="85.70" r="4.0" fill="#000"/>
<circle cx="457.80" cy="86.10" r="4.0" fill="#000"/>
<line x1="471.60" y1="126.28" x2="471.60" y2="144.38" stroke="#000" stroke-width="1.5" />
<line x1="467.75" y1="126.28" x2="475.45" y2="126.28" stroke="#000" stroke-width="1.4" />
<line x1="467.75" y1="144.38" x2="475.45" y2="144.38" stroke="#000" stroke-width="1.4" />
<line x1="463.75" y1="135.33" x2="479.45" y2="135.33" stroke="#000" stroke-width="2.8" />
<circle cx="466.60" cy="129.00" r="3.45" fill="#fff" stroke="#000" stroke-width="1.35"/>
<circle cx="476.40" cy="131.30" r="3.45" fill="#fff" stroke="#000" stroke-width="1.35"/>
<circle cx="471.50" cy="145.70" r="3.45" fill="#fff" stroke="#000" stroke-width="1.35"/>
<line x1="490.60" y1="93.92" x2="490.60" y2="107.35" stroke="#f00" stroke-width="1.5" />
<line x1="486.75" y1="93.92" x2="494.45" y2="93.92" stroke="#f00" stroke-width="1.4" />
<line x1="486.75" y1="107.35" x2="494.45" y2="107.35" stroke="#f00" stroke-width="1.4" />
<line x1="482.75" y1="100.63" x2="498.45" y2="100.63" stroke="#000" stroke-width="2.8" />
<circle cx="485.60" cy="95.80" r="4.0" fill="#f00"/>
<circle cx="495.10" cy="97.80" r="4.0" fill="#f00"/>
<circle cx="490.50" cy="108.30" r="4.0" fill="#f00"/>
<line x1="509.60" y1="99.35" x2="509.60" y2="111.18" stroke="#f00" stroke-width="1.5" />
<line x1="505.75" y1="99.35" x2="513.45" y2="99.35" stroke="#f00" stroke-width="1.4" />
<line x1="505.75" y1="111.18" x2="513.45" y2="111.18" stroke="#f00" stroke-width="1.4" />
<line x1="501.75" y1="105.27" x2="517.45" y2="105.27" stroke="#000" stroke-width="2.8" />
<circle cx="504.80" cy="98.90" r="3.45" fill="#fff" stroke="#f00" stroke-width="1.35"/>
<circle cx="514.20" cy="106.30" r="3.45" fill="#fff" stroke="#f00" stroke-width="1.35"/>
<circle cx="504.80" cy="110.60" r="3.45" fill="#fff" stroke="#f00" stroke-width="1.35"/>
<line x1="537.00" y1="85.04" x2="537.00" y2="97.16" stroke="#000" stroke-width="1.5" />
<line x1="533.15" y1="85.04" x2="540.85" y2="85.04" stroke="#000" stroke-width="1.4" />
<line x1="533.15" y1="97.16" x2="540.85" y2="97.16" stroke="#000" stroke-width="1.4" />
<line x1="529.15" y1="91.10" x2="544.85" y2="91.10" stroke="#000" stroke-width="2.8" />
<circle cx="532.00" cy="87.60" r="4.0" fill="#000"/>
<circle cx="542.00" cy="87.60" r="4.0" fill="#000"/>
<circle cx="537.10" cy="98.10" r="4.0" fill="#000"/>
<line x1="556.00" y1="167.44" x2="556.00" y2="182.36" stroke="#000" stroke-width="1.5" />
<line x1="552.15" y1="167.44" x2="559.85" y2="167.44" stroke="#000" stroke-width="1.4" />
<line x1="552.15" y1="182.36" x2="559.85" y2="182.36" stroke="#000" stroke-width="1.4" />
<line x1="548.15" y1="174.90" x2="563.85" y2="174.90" stroke="#000" stroke-width="2.8" />
<circle cx="551.30" cy="170.10" r="3.45" fill="#fff" stroke="#000" stroke-width="1.35"/>
<circle cx="560.70" cy="171.10" r="3.45" fill="#fff" stroke="#000" stroke-width="1.35"/>
<circle cx="556.10" cy="183.50" r="3.45" fill="#fff" stroke="#000" stroke-width="1.35"/>
<line x1="575.00" y1="113.52" x2="575.00" y2="125.88" stroke="#f00" stroke-width="1.5" />
<line x1="571.15" y1="113.52" x2="578.85" y2="113.52" stroke="#f00" stroke-width="1.4" />
<line x1="571.15" y1="125.88" x2="578.85" y2="125.88" stroke="#f00" stroke-width="1.4" />
<line x1="567.15" y1="119.70" x2="582.85" y2="119.70" stroke="#000" stroke-width="2.8" />
<circle cx="570.30" cy="115.50" r="4.0" fill="#f00"/>
<circle cx="580.20" cy="116.80" r="4.0" fill="#f00"/>
<circle cx="574.90" cy="126.80" r="4.0" fill="#f00"/>
<line x1="594.00" y1="106.51" x2="594.00" y2="134.22" stroke="#f00" stroke-width="1.5" />
<line x1="590.15" y1="106.51" x2="597.85" y2="106.51" stroke="#f00" stroke-width="1.4" />
<line x1="590.15" y1="134.22" x2="597.85" y2="134.22" stroke="#f00" stroke-width="1.4" />
<line x1="586.15" y1="120.37" x2="601.85" y2="120.37" stroke="#000" stroke-width="2.8" />
<circle cx="594.20" cy="107.30" r="3.45" fill="#fff" stroke="#f00" stroke-width="1.35"/>
<circle cx="594.20" cy="118.90" r="3.45" fill="#fff" stroke="#f00" stroke-width="1.35"/>
<circle cx="594.20" cy="134.90" r="3.45" fill="#fff" stroke="#f00" stroke-width="1.35"/>
<path d="M88.70,313.70 V296.10 H106.30 V320.70" fill="none" stroke="#2a2a2a" stroke-width="1.7"/>
<text x="97.50" y="297.80" font-size="14.5" font-weight="normal" text-anchor="middle" fill="#000" stroke="#000" stroke-width="0.15">*</text>
<path d="M123.70,319.00 V296.10 H141.20 V316.70" fill="none" stroke="#2a2a2a" stroke-width="1.7"/>
<text x="132.45" y="293.20" font-size="11" font-weight="normal" text-anchor="middle" fill="#2a2a2a" stroke="#2a2a2a" stroke-width="0.15">ns</text>
<path d="M106.30,282.70 V268.40 H141.20 V282.70" fill="none" stroke="#2a2a2a" stroke-width="1.7"/>
<text x="123.75" y="265.50" font-size="11" font-weight="normal" text-anchor="middle" fill="#2a2a2a" stroke="#2a2a2a" stroke-width="0.15">ns</text>
<path d="M166.10,309.30 V296.10 H184.00 V323.40" fill="none" stroke="#2a2a2a" stroke-width="1.7"/>
<text x="161.10" y="297.80" font-size="14.5" font-weight="normal" text-anchor="middle" fill="#000" stroke="#000" stroke-width="0.15">*</text>
<text x="170.40" y="297.80" font-size="14.5" font-weight="normal" text-anchor="middle" fill="#000" stroke="#000" stroke-width="0.15">*</text>
<text x="179.70" y="297.80" font-size="14.5" font-weight="normal" text-anchor="middle" fill="#000" stroke="#000" stroke-width="0.15">*</text>
<text x="189.00" y="297.80" font-size="14.5" font-weight="normal" text-anchor="middle" fill="#000" stroke="#000" stroke-width="0.15">*</text>
<path d="M201.40,324.50 V296.10 H218.90 V323.50" fill="none" stroke="#2a2a2a" stroke-width="1.7"/>
<text x="210.15" y="293.20" font-size="11" font-weight="normal" text-anchor="middle" fill="#2a2a2a" stroke="#2a2a2a" stroke-width="0.15">ns</text>
<path d="M184.00,282.60 V268.60 H218.90 V282.60" fill="none" stroke="#2a2a2a" stroke-width="1.7"/>
<text x="201.45" y="265.70" font-size="11" font-weight="normal" text-anchor="middle" fill="#2a2a2a" stroke="#2a2a2a" stroke-width="0.15">ns</text>
<path d="M244.50,307.70 V296.00 H261.90 V332.30" fill="none" stroke="#2a2a2a" stroke-width="1.7"/>
<text x="239.25" y="297.70" font-size="14.5" font-weight="normal" text-anchor="middle" fill="#000" stroke="#000" stroke-width="0.15">*</text>
<text x="248.55" y="297.70" font-size="14.5" font-weight="normal" text-anchor="middle" fill="#000" stroke="#000" stroke-width="0.15">*</text>
<text x="257.85" y="297.70" font-size="14.5" font-weight="normal" text-anchor="middle" fill="#000" stroke="#000" stroke-width="0.15">*</text>
<text x="267.15" y="297.70" font-size="14.5" font-weight="normal" text-anchor="middle" fill="#000" stroke="#000" stroke-width="0.15">*</text>
<path d="M279.20,337.80 V296.00 H297.20 V323.50" fill="none" stroke="#2a2a2a" stroke-width="1.7"/>
<text x="278.90" y="297.70" font-size="14.5" font-weight="normal" text-anchor="middle" fill="#000" stroke="#000" stroke-width="0.15">*</text>
<text x="288.20" y="297.70" font-size="14.5" font-weight="normal" text-anchor="middle" fill="#000" stroke="#000" stroke-width="0.15">*</text>
<text x="297.50" y="297.70" font-size="14.5" font-weight="normal" text-anchor="middle" fill="#000" stroke="#000" stroke-width="0.15">*</text>
<path d="M261.90,285.50 V268.70 H297.20 V285.50" fill="none" stroke="#2a2a2a" stroke-width="1.7"/>
<text x="274.90" y="271.20" font-size="14.5" font-weight="normal" text-anchor="middle" fill="#000" stroke="#000" stroke-width="0.15">*</text>
<text x="284.20" y="271.20" font-size="14.5" font-weight="normal" text-anchor="middle" fill="#000" stroke="#000" stroke-width="0.15">*</text>
<line x1="88.55" y1="325.04" x2="88.55" y2="328.16" stroke="#000" stroke-width="1.5" />
<line x1="84.70" y1="325.04" x2="92.40" y2="325.04" stroke="#000" stroke-width="1.4" />
<line x1="84.70" y1="328.16" x2="92.40" y2="328.16" stroke="#000" stroke-width="1.4" />
<line x1="80.70" y1="326.60" x2="96.40" y2="326.60" stroke="#000" stroke-width="2.8" />
<circle cx="83.80" cy="327.50" r="4.0" fill="#000"/>
<circle cx="88.50" cy="324.80" r="4.0" fill="#000"/>
<circle cx="92.70" cy="327.50" r="4.0" fill="#000"/>
<line x1="106.05" y1="332.10" x2="106.05" y2="337.30" stroke="#000" stroke-width="1.5" />
<line x1="102.20" y1="332.10" x2="109.90" y2="332.10" stroke="#000" stroke-width="1.4" />
<line x1="102.20" y1="337.30" x2="109.90" y2="337.30" stroke="#000" stroke-width="1.4" />
<line x1="98.20" y1="334.70" x2="113.90" y2="334.70" stroke="#000" stroke-width="2.8" />
<circle cx="102.20" cy="337.30" r="3.45" fill="#fff" stroke="#000" stroke-width="1.35"/>
<circle cx="106.50" cy="332.10" r="3.45" fill="#fff" stroke="#000" stroke-width="1.35"/>
<circle cx="110.90" cy="334.70" r="3.45" fill="#fff" stroke="#000" stroke-width="1.35"/>
<line x1="123.55" y1="330.27" x2="123.55" y2="333.73" stroke="#f00" stroke-width="1.5" />
<line x1="119.70" y1="330.27" x2="127.40" y2="330.27" stroke="#f00" stroke-width="1.4" />
<line x1="119.70" y1="333.73" x2="127.40" y2="333.73" stroke="#f00" stroke-width="1.4" />
<line x1="115.70" y1="332.00" x2="131.40" y2="332.00" stroke="#000" stroke-width="2.8" />
<circle cx="120.50" cy="333.00" r="4.0" fill="#f00"/>
<circle cx="124.50" cy="330.00" r="4.0" fill="#f00"/>
<circle cx="127.50" cy="333.00" r="4.0" fill="#f00"/>
<line x1="141.05" y1="327.31" x2="141.05" y2="333.62" stroke="#f00" stroke-width="1.5" />
<line x1="137.20" y1="327.31" x2="144.90" y2="327.31" stroke="#f00" stroke-width="1.4" />
<line x1="137.20" y1="333.62" x2="144.90" y2="333.62" stroke="#f00" stroke-width="1.4" />
<line x1="133.20" y1="330.47" x2="148.90" y2="330.47" stroke="#000" stroke-width="2.8" />
<circle cx="136.70" cy="333.50" r="3.45" fill="#fff" stroke="#f00" stroke-width="1.35"/>
<circle cx="141.60" cy="327.20" r="3.45" fill="#fff" stroke="#f00" stroke-width="1.35"/>
<circle cx="145.60" cy="330.70" r="3.45" fill="#fff" stroke="#f00" stroke-width="1.35"/>
<line x1="166.55" y1="319.56" x2="166.55" y2="322.77" stroke="#000" stroke-width="1.5" />
<line x1="162.70" y1="319.56" x2="170.40" y2="319.56" stroke="#000" stroke-width="1.4" />
<line x1="162.70" y1="322.77" x2="170.40" y2="322.77" stroke="#000" stroke-width="1.4" />
<line x1="158.70" y1="321.17" x2="174.40" y2="321.17" stroke="#000" stroke-width="2.8" />
<circle cx="163.00" cy="323.00" r="4.0" fill="#000"/>
<circle cx="167.00" cy="320.00" r="4.0" fill="#000"/>
<circle cx="170.50" cy="320.50" r="4.0" fill="#000"/>
<line x1="184.05" y1="335.85" x2="184.05" y2="347.42" stroke="#000" stroke-width="1.5" />
<line x1="180.20" y1="335.85" x2="187.90" y2="335.85" stroke="#000" stroke-width="1.4" />
<line x1="180.20" y1="347.42" x2="187.90" y2="347.42" stroke="#000" stroke-width="1.4" />
<line x1="176.20" y1="341.63" x2="191.90" y2="341.63" stroke="#000" stroke-width="2.8" />
<circle cx="180.10" cy="336.50" r="3.45" fill="#fff" stroke="#000" stroke-width="1.35"/>
<circle cx="188.00" cy="340.50" r="3.45" fill="#fff" stroke="#000" stroke-width="1.35"/>
<circle cx="184.00" cy="347.90" r="3.45" fill="#fff" stroke="#000" stroke-width="1.35"/>
<line x1="201.55" y1="336.12" x2="201.55" y2="350.35" stroke="#f00" stroke-width="1.5" />
<line x1="197.70" y1="336.12" x2="205.40" y2="336.12" stroke="#f00" stroke-width="1.4" />
<line x1="197.70" y1="350.35" x2="205.40" y2="350.35" stroke="#f00" stroke-width="1.4" />
<line x1="193.70" y1="343.23" x2="209.40" y2="343.23" stroke="#000" stroke-width="2.8" />
<circle cx="197.00" cy="337.50" r="4.0" fill="#f00"/>
<circle cx="205.80" cy="341.00" r="4.0" fill="#f00"/>
<circle cx="201.40" cy="351.20" r="4.0" fill="#f00"/>
<line x1="219.05" y1="335.62" x2="219.05" y2="337.12" stroke="#f00" stroke-width="1.5" />
<line x1="215.20" y1="335.62" x2="222.90" y2="335.62" stroke="#f00" stroke-width="1.4" />
<line x1="215.20" y1="337.12" x2="222.90" y2="337.12" stroke="#f00" stroke-width="1.4" />
<line x1="211.20" y1="336.37" x2="226.90" y2="336.37" stroke="#000" stroke-width="2.8" />
<circle cx="214.50" cy="336.80" r="3.45" fill="#fff" stroke="#f00" stroke-width="1.35"/>
<circle cx="219.50" cy="335.50" r="3.45" fill="#fff" stroke="#f00" stroke-width="1.35"/>
<circle cx="222.80" cy="336.80" r="3.45" fill="#fff" stroke="#f00" stroke-width="1.35"/>
<line x1="244.55" y1="316.84" x2="244.55" y2="322.56" stroke="#000" stroke-width="1.5" />
<line x1="240.70" y1="316.84" x2="248.40" y2="316.84" stroke="#000" stroke-width="1.4" />
<line x1="240.70" y1="322.56" x2="248.40" y2="322.56" stroke="#000" stroke-width="1.4" />
<line x1="236.70" y1="319.70" x2="252.40" y2="319.70" stroke="#000" stroke-width="2.8" />
<circle cx="240.00" cy="322.40" r="4.0" fill="#000"/>
<circle cx="244.50" cy="316.70" r="4.0" fill="#000"/>
<circle cx="248.60" cy="320.00" r="4.0" fill="#000"/>
<line x1="262.05" y1="346.31" x2="262.05" y2="355.36" stroke="#000" stroke-width="1.5" />
<line x1="258.20" y1="346.31" x2="265.90" y2="346.31" stroke="#000" stroke-width="1.4" />
<line x1="258.20" y1="355.36" x2="265.90" y2="355.36" stroke="#000" stroke-width="1.4" />
<line x1="254.20" y1="350.83" x2="269.90" y2="350.83" stroke="#000" stroke-width="2.8" />
<circle cx="257.40" cy="347.20" r="3.45" fill="#fff" stroke="#000" stroke-width="1.35"/>
<circle cx="266.20" cy="349.40" r="3.45" fill="#fff" stroke="#000" stroke-width="1.35"/>
<circle cx="257.40" cy="355.90" r="3.45" fill="#fff" stroke="#000" stroke-width="1.35"/>
<line x1="279.55" y1="352.82" x2="279.55" y2="354.11" stroke="#f00" stroke-width="1.5" />
<line x1="275.70" y1="352.82" x2="283.40" y2="352.82" stroke="#f00" stroke-width="1.4" />
<line x1="275.70" y1="354.11" x2="283.40" y2="354.11" stroke="#f00" stroke-width="1.4" />
<line x1="271.70" y1="353.47" x2="287.40" y2="353.47" stroke="#000" stroke-width="2.8" />
<circle cx="275.50" cy="354.20" r="4.0" fill="#f00"/>
<circle cx="279.50" cy="353.00" r="4.0" fill="#f00"/>
<circle cx="283.00" cy="353.20" r="4.0" fill="#f00"/>
<line x1="297.05" y1="336.18" x2="297.05" y2="341.02" stroke="#f00" stroke-width="1.5" />
<line x1="293.20" y1="336.18" x2="300.90" y2="336.18" stroke="#f00" stroke-width="1.4" />
<line x1="293.20" y1="341.02" x2="300.90" y2="341.02" stroke="#f00" stroke-width="1.4" />
<line x1="289.20" y1="338.60" x2="304.90" y2="338.60" stroke="#000" stroke-width="2.8" />
<circle cx="292.50" cy="341.40" r="3.45" fill="#fff" stroke="#f00" stroke-width="1.35"/>
<circle cx="296.90" cy="337.20" r="3.45" fill="#fff" stroke="#f00" stroke-width="1.35"/>
<circle cx="300.70" cy="337.20" r="3.45" fill="#fff" stroke="#f00" stroke-width="1.35"/>
<path d="M451.40,301.00 V298.00 H470.30 V359.50" fill="none" stroke="#2a2a2a" stroke-width="1.7"/>
<text x="446.90" y="299.70" font-size="14.5" font-weight="normal" text-anchor="middle" fill="#000" stroke="#000" stroke-width="0.15">*</text>
<text x="456.20" y="299.70" font-size="14.5" font-weight="normal" text-anchor="middle" fill="#000" stroke="#000" stroke-width="0.15">*</text>
<text x="465.50" y="299.70" font-size="14.5" font-weight="normal" text-anchor="middle" fill="#000" stroke="#000" stroke-width="0.15">*</text>
<text x="474.80" y="299.70" font-size="14.5" font-weight="normal" text-anchor="middle" fill="#000" stroke="#000" stroke-width="0.15">*</text>
<path d="M489.10,325.30 V297.80 H508.30 V320.40" fill="none" stroke="#2a2a2a" stroke-width="1.7"/>
<text x="498.70" y="294.90" font-size="11" font-weight="normal" text-anchor="middle" fill="#2a2a2a" stroke="#2a2a2a" stroke-width="0.15">ns</text>
<path d="M470.30,282.80 V271.50 H508.30 V282.80" fill="none" stroke="#2a2a2a" stroke-width="1.7"/>
<text x="475.35" y="274.00" font-size="14.5" font-weight="normal" text-anchor="middle" fill="#000" stroke="#000" stroke-width="0.15">*</text>
<text x="484.65" y="274.00" font-size="14.5" font-weight="normal" text-anchor="middle" fill="#000" stroke="#000" stroke-width="0.15">*</text>
<text x="493.95" y="274.00" font-size="14.5" font-weight="normal" text-anchor="middle" fill="#000" stroke="#000" stroke-width="0.15">*</text>
<text x="503.25" y="274.00" font-size="14.5" font-weight="normal" text-anchor="middle" fill="#000" stroke="#000" stroke-width="0.15">*</text>
<path d="M536.00,305.60 V297.80 H555.20 V404.50" fill="none" stroke="#2a2a2a" stroke-width="1.7"/>
<text x="531.65" y="299.50" font-size="14.5" font-weight="normal" text-anchor="middle" fill="#000" stroke="#000" stroke-width="0.15">*</text>
<text x="540.95" y="299.50" font-size="14.5" font-weight="normal" text-anchor="middle" fill="#000" stroke="#000" stroke-width="0.15">*</text>
<text x="550.25" y="299.50" font-size="14.5" font-weight="normal" text-anchor="middle" fill="#000" stroke="#000" stroke-width="0.15">*</text>
<text x="559.55" y="299.50" font-size="14.5" font-weight="normal" text-anchor="middle" fill="#000" stroke="#000" stroke-width="0.15">*</text>
<path d="M574.10,340.30 V297.80 H593.10 V325.00" fill="none" stroke="#2a2a2a" stroke-width="1.7"/>
<text x="583.60" y="299.50" font-size="14.5" font-weight="normal" text-anchor="middle" fill="#000" stroke="#000" stroke-width="0.15">*</text>
<path d="M555.20,282.70 V271.60 H593.10 V282.70" fill="none" stroke="#2a2a2a" stroke-width="1.7"/>
<text x="560.20" y="274.10" font-size="14.5" font-weight="normal" text-anchor="middle" fill="#000" stroke="#000" stroke-width="0.15">*</text>
<text x="569.50" y="274.10" font-size="14.5" font-weight="normal" text-anchor="middle" fill="#000" stroke="#000" stroke-width="0.15">*</text>
<text x="578.80" y="274.10" font-size="14.5" font-weight="normal" text-anchor="middle" fill="#000" stroke="#000" stroke-width="0.15">*</text>
<text x="588.10" y="274.10" font-size="14.5" font-weight="normal" text-anchor="middle" fill="#000" stroke="#000" stroke-width="0.15">*</text>
<line x1="451.50" y1="307.00" x2="451.50" y2="317.13" stroke="#000" stroke-width="1.5" />
<line x1="447.65" y1="307.00" x2="455.35" y2="307.00" stroke="#000" stroke-width="1.4" />
<line x1="447.65" y1="317.13" x2="455.35" y2="317.13" stroke="#000" stroke-width="1.4" />
<line x1="443.65" y1="312.07" x2="459.35" y2="312.07" stroke="#000" stroke-width="2.8" />
<circle cx="446.60" cy="308.20" r="4.0" fill="#000"/>
<circle cx="456.00" cy="310.20" r="4.0" fill="#000"/>
<circle cx="451.40" cy="317.80" r="4.0" fill="#000"/>
<line x1="470.50" y1="366.25" x2="470.50" y2="370.41" stroke="#000" stroke-width="1.5" />
<line x1="466.65" y1="366.25" x2="474.35" y2="366.25" stroke="#000" stroke-width="1.4" />
<line x1="466.65" y1="370.41" x2="474.35" y2="370.41" stroke="#000" stroke-width="1.4" />
<line x1="462.65" y1="368.33" x2="478.35" y2="368.33" stroke="#000" stroke-width="2.8" />
<circle cx="465.90" cy="370.00" r="3.45" fill="#fff" stroke="#000" stroke-width="1.35"/>
<circle cx="470.50" cy="366.00" r="3.45" fill="#fff" stroke="#000" stroke-width="1.35"/>
<circle cx="475.70" cy="369.00" r="3.45" fill="#fff" stroke="#000" stroke-width="1.35"/>
<line x1="489.50" y1="334.79" x2="489.50" y2="342.08" stroke="#f00" stroke-width="1.5" />
<line x1="485.65" y1="334.79" x2="493.35" y2="334.79" stroke="#f00" stroke-width="1.4" />
<line x1="485.65" y1="342.08" x2="493.35" y2="342.08" stroke="#f00" stroke-width="1.4" />
<line x1="481.65" y1="338.43" x2="497.35" y2="338.43" stroke="#000" stroke-width="2.8" />
<circle cx="484.70" cy="334.50" r="4.0" fill="#f00"/>
<circle cx="484.70" cy="341.70" r="4.0" fill="#f00"/>
<circle cx="494.10" cy="339.10" r="4.0" fill="#f00"/>
<line x1="508.50" y1="328.68" x2="508.50" y2="339.58" stroke="#f00" stroke-width="1.5" />
<line x1="504.65" y1="328.68" x2="512.35" y2="328.68" stroke="#f00" stroke-width="1.4" />
<line x1="504.65" y1="339.58" x2="512.35" y2="339.58" stroke="#f00" stroke-width="1.4" />
<line x1="500.65" y1="334.13" x2="516.35" y2="334.13" stroke="#000" stroke-width="2.8" />
<circle cx="504.00" cy="330.50" r="3.45" fill="#fff" stroke="#f00" stroke-width="1.35"/>
<circle cx="513.20" cy="331.50" r="3.45" fill="#fff" stroke="#f00" stroke-width="1.35"/>
<circle cx="508.60" cy="340.40" r="3.45" fill="#fff" stroke="#f00" stroke-width="1.35"/>
<line x1="535.90" y1="314.68" x2="535.90" y2="326.72" stroke="#000" stroke-width="1.5" />
<line x1="532.05" y1="314.68" x2="539.75" y2="314.68" stroke="#000" stroke-width="1.4" />
<line x1="532.05" y1="326.72" x2="539.75" y2="326.72" stroke="#000" stroke-width="1.4" />
<line x1="528.05" y1="320.70" x2="543.75" y2="320.70" stroke="#000" stroke-width="2.8" />
<circle cx="531.10" cy="314.40" r="4.0" fill="#000"/>
<circle cx="540.80" cy="321.30" r="4.0" fill="#000"/>
<circle cx="531.10" cy="326.40" r="4.0" fill="#000"/>
<line x1="554.90" y1="412.06" x2="554.90" y2="424.47" stroke="#000" stroke-width="1.5" />
<line x1="551.05" y1="412.06" x2="558.75" y2="412.06" stroke="#000" stroke-width="1.4" />
<line x1="551.05" y1="424.47" x2="558.75" y2="424.47" stroke="#000" stroke-width="1.4" />
<line x1="547.05" y1="418.27" x2="562.75" y2="418.27" stroke="#000" stroke-width="2.8" />
<circle cx="555.00" cy="411.50" r="3.45" fill="#fff" stroke="#000" stroke-width="1.35"/>
<circle cx="560.30" cy="419.60" r="3.45" fill="#fff" stroke="#000" stroke-width="1.35"/>
<circle cx="550.10" cy="423.70" r="3.45" fill="#fff" stroke="#000" stroke-width="1.35"/>
<line x1="573.90" y1="343.75" x2="573.90" y2="356.65" stroke="#f00" stroke-width="1.5" />
<line x1="570.05" y1="343.75" x2="577.75" y2="343.75" stroke="#f00" stroke-width="1.4" />
<line x1="570.05" y1="356.65" x2="577.75" y2="356.65" stroke="#f00" stroke-width="1.4" />
<line x1="566.05" y1="350.20" x2="581.75" y2="350.20" stroke="#000" stroke-width="2.8" />
<circle cx="569.20" cy="345.80" r="4.0" fill="#f00"/>
<circle cx="578.90" cy="347.20" r="4.0" fill="#f00"/>
<circle cx="573.80" cy="357.60" r="4.0" fill="#f00"/>
<line x1="592.90" y1="329.39" x2="592.90" y2="341.74" stroke="#f00" stroke-width="1.5" />
<line x1="589.05" y1="329.39" x2="596.75" y2="329.39" stroke="#f00" stroke-width="1.4" />
<line x1="589.05" y1="341.74" x2="596.75" y2="341.74" stroke="#f00" stroke-width="1.4" />
<line x1="585.05" y1="335.57" x2="600.75" y2="335.57" stroke="#000" stroke-width="2.8" />
<circle cx="588.00" cy="332.00" r="3.45" fill="#fff" stroke="#f00" stroke-width="1.35"/>
<circle cx="598.40" cy="332.00" r="3.45" fill="#fff" stroke="#f00" stroke-width="1.35"/>
<circle cx="593.10" cy="342.70" r="3.45" fill="#fff" stroke="#f00" stroke-width="1.35"/>
<path d="M88.70,560.40 V541.70 H106.20 V585.80" fill="none" stroke="#2a2a2a" stroke-width="1.7"/>
<text x="83.50" y="543.40" font-size="14.5" font-weight="normal" text-anchor="middle" fill="#000" stroke="#000" stroke-width="0.15">*</text>
<text x="92.80" y="543.40" font-size="14.5" font-weight="normal" text-anchor="middle" fill="#000" stroke="#000" stroke-width="0.15">*</text>
<text x="102.10" y="543.40" font-size="14.5" font-weight="normal" text-anchor="middle" fill="#000" stroke="#000" stroke-width="0.15">*</text>
<text x="111.40" y="543.40" font-size="14.5" font-weight="normal" text-anchor="middle" fill="#000" stroke="#000" stroke-width="0.15">*</text>
<path d="M123.70,568.30 V541.70 H141.20 V574.50" fill="none" stroke="#2a2a2a" stroke-width="1.7"/>
<text x="132.45" y="538.80" font-size="11" font-weight="normal" text-anchor="middle" fill="#2a2a2a" stroke="#2a2a2a" stroke-width="0.15">ns</text>
<path d="M106.20,528.00 V513.80 H141.20 V528.00" fill="none" stroke="#2a2a2a" stroke-width="1.7"/>
<text x="123.70" y="510.90" font-size="11" font-weight="normal" text-anchor="middle" fill="#2a2a2a" stroke="#2a2a2a" stroke-width="0.15">ns</text>
<path d="M166.10,556.40 V541.80 H183.80 V595.20" fill="none" stroke="#2a2a2a" stroke-width="1.7"/>
<text x="161.00" y="543.50" font-size="14.5" font-weight="normal" text-anchor="middle" fill="#000" stroke="#000" stroke-width="0.15">*</text>
<text x="170.30" y="543.50" font-size="14.5" font-weight="normal" text-anchor="middle" fill="#000" stroke="#000" stroke-width="0.15">*</text>
<text x="179.60" y="543.50" font-size="14.5" font-weight="normal" text-anchor="middle" fill="#000" stroke="#000" stroke-width="0.15">*</text>
<text x="188.90" y="543.50" font-size="14.5" font-weight="normal" text-anchor="middle" fill="#000" stroke="#000" stroke-width="0.15">*</text>
<path d="M201.20,572.60 V541.90 H218.90 V585.80" fill="none" stroke="#2a2a2a" stroke-width="1.7"/>
<text x="210.05" y="539.00" font-size="11" font-weight="normal" text-anchor="middle" fill="#2a2a2a" stroke="#2a2a2a" stroke-width="0.15">ns</text>
<path d="M183.80,528.20 V513.90 H218.90 V528.20" fill="none" stroke="#2a2a2a" stroke-width="1.7"/>
<text x="201.35" y="511.00" font-size="11" font-weight="normal" text-anchor="middle" fill="#2a2a2a" stroke="#2a2a2a" stroke-width="0.15">ns</text>
<path d="M244.50,557.60 V541.90 H261.90 V626.10" fill="none" stroke="#2a2a2a" stroke-width="1.7"/>
<text x="239.25" y="543.60" font-size="14.5" font-weight="normal" text-anchor="middle" fill="#000" stroke="#000" stroke-width="0.15">*</text>
<text x="248.55" y="543.60" font-size="14.5" font-weight="normal" text-anchor="middle" fill="#000" stroke="#000" stroke-width="0.15">*</text>
<text x="257.85" y="543.60" font-size="14.5" font-weight="normal" text-anchor="middle" fill="#000" stroke="#000" stroke-width="0.15">*</text>
<text x="267.15" y="543.60" font-size="14.5" font-weight="normal" text-anchor="middle" fill="#000" stroke="#000" stroke-width="0.15">*</text>
<path d="M279.20,590.70 V541.90 H296.90 V599.90" fill="none" stroke="#2a2a2a" stroke-width="1.7"/>
<text x="288.05" y="543.60" font-size="14.5" font-weight="normal" text-anchor="middle" fill="#000" stroke="#000" stroke-width="0.15">*</text>
<path d="M261.90,527.60 V513.90 H296.90 V527.60" fill="none" stroke="#2a2a2a" stroke-width="1.7"/>
<text x="265.45" y="516.40" font-size="14.5" font-weight="normal" text-anchor="middle" fill="#000" stroke="#000" stroke-width="0.15">*</text>
<text x="274.75" y="516.40" font-size="14.5" font-weight="normal" text-anchor="middle" fill="#000" stroke="#000" stroke-width="0.15">*</text>
<text x="284.05" y="516.40" font-size="14.5" font-weight="normal" text-anchor="middle" fill="#000" stroke="#000" stroke-width="0.15">*</text>
<text x="293.35" y="516.40" font-size="14.5" font-weight="normal" text-anchor="middle" fill="#000" stroke="#000" stroke-width="0.15">*</text>
<line x1="88.55" y1="574.77" x2="88.55" y2="578.56" stroke="#000" stroke-width="1.5" />
<line x1="84.70" y1="574.77" x2="92.40" y2="574.77" stroke="#000" stroke-width="1.4" />
<line x1="84.70" y1="578.56" x2="92.40" y2="578.56" stroke="#000" stroke-width="1.4" />
<line x1="80.70" y1="576.67" x2="96.40" y2="576.67" stroke="#000" stroke-width="2.8" />
<circle cx="84.50" cy="578.00" r="4.0" fill="#000"/>
<circle cx="88.50" cy="574.50" r="4.0" fill="#000"/>
<circle cx="92.50" cy="577.50" r="4.0" fill="#000"/>
<line x1="106.05" y1="600.98" x2="106.05" y2="605.49" stroke="#000" stroke-width="1.5" />
<line x1="102.20" y1="600.98" x2="109.90" y2="600.98" stroke="#000" stroke-width="1.4" />
<line x1="102.20" y1="605.49" x2="109.90" y2="605.49" stroke="#000" stroke-width="1.4" />
<line x1="98.20" y1="603.23" x2="113.90" y2="603.23" stroke="#000" stroke-width="2.8" />
<circle cx="102.20" cy="605.40" r="3.45" fill="#fff" stroke="#000" stroke-width="1.35"/>
<circle cx="106.20" cy="600.90" r="3.45" fill="#fff" stroke="#000" stroke-width="1.35"/>
<circle cx="110.30" cy="603.40" r="3.45" fill="#fff" stroke="#000" stroke-width="1.35"/>
<line x1="123.55" y1="583.07" x2="123.55" y2="584.60" stroke="#f00" stroke-width="1.5" />
<line x1="119.70" y1="583.07" x2="127.40" y2="583.07" stroke="#f00" stroke-width="1.4" />
<line x1="119.70" y1="584.60" x2="127.40" y2="584.60" stroke="#f00" stroke-width="1.4" />
<line x1="115.70" y1="583.83" x2="131.40" y2="583.83" stroke="#000" stroke-width="2.8" />
<circle cx="120.50" cy="584.50" r="4.0" fill="#f00"/>
<circle cx="124.50" cy="583.00" r="4.0" fill="#f00"/>
<circle cx="127.50" cy="584.00" r="4.0" fill="#f00"/>
<line x1="141.05" y1="588.83" x2="141.05" y2="598.64" stroke="#f00" stroke-width="1.5" />
<line x1="137.20" y1="588.83" x2="144.90" y2="588.83" stroke="#f00" stroke-width="1.4" />
<line x1="137.20" y1="598.64" x2="144.90" y2="598.64" stroke="#f00" stroke-width="1.4" />
<line x1="133.20" y1="593.73" x2="148.90" y2="593.73" stroke="#000" stroke-width="2.8" />
<circle cx="136.70" cy="589.30" r="3.45" fill="#fff" stroke="#f00" stroke-width="1.35"/>
<circle cx="145.10" cy="592.90" r="3.45" fill="#fff" stroke="#f00" stroke-width="1.35"/>
<circle cx="137.20" cy="599.00" r="3.45" fill="#fff" stroke="#f00" stroke-width="1.35"/>
<line x1="166.55" y1="570.51" x2="166.55" y2="588.35" stroke="#000" stroke-width="1.5" />
<line x1="162.70" y1="570.51" x2="170.40" y2="570.51" stroke="#000" stroke-width="1.4" />
<line x1="162.70" y1="588.35" x2="170.40" y2="588.35" stroke="#000" stroke-width="1.4" />
<line x1="158.70" y1="579.43" x2="174.40" y2="579.43" stroke="#000" stroke-width="2.8" />
<circle cx="162.20" cy="573.60" r="4.0" fill="#000"/>
<circle cx="170.50" cy="575.00" r="4.0" fill="#000"/>
<circle cx="166.40" cy="589.70" r="4.0" fill="#000"/>
<line x1="184.05" y1="610.86" x2="184.05" y2="612.47" stroke="#000" stroke-width="1.5" />
<line x1="180.20" y1="610.86" x2="187.90" y2="610.86" stroke="#000" stroke-width="1.4" />
<line x1="180.20" y1="612.47" x2="187.90" y2="612.47" stroke="#000" stroke-width="1.4" />
<line x1="176.20" y1="611.67" x2="191.90" y2="611.67" stroke="#000" stroke-width="2.8" />
<circle cx="179.80" cy="612.60" r="3.45" fill="#fff" stroke="#000" stroke-width="1.35"/>
<circle cx="184.90" cy="611.20" r="3.45" fill="#fff" stroke="#000" stroke-width="1.35"/>
<circle cx="188.60" cy="611.20" r="3.45" fill="#fff" stroke="#000" stroke-width="1.35"/>
<line x1="201.55" y1="587.64" x2="201.55" y2="614.36" stroke="#f00" stroke-width="1.5" />
<line x1="197.70" y1="587.64" x2="205.40" y2="587.64" stroke="#f00" stroke-width="1.4" />
<line x1="197.70" y1="614.36" x2="205.40" y2="614.36" stroke="#f00" stroke-width="1.4" />
<line x1="193.70" y1="601.00" x2="209.40" y2="601.00" stroke="#000" stroke-width="2.8" />
<circle cx="200.90" cy="587.00" r="4.0" fill="#f00"/>
<circle cx="200.90" cy="602.40" r="4.0" fill="#f00"/>
<circle cx="200.90" cy="613.60" r="4.0" fill="#f00"/>
<line x1="219.05" y1="600.98" x2="219.05" y2="607.88" stroke="#f00" stroke-width="1.5" />
<line x1="215.20" y1="600.98" x2="222.90" y2="600.98" stroke="#f00" stroke-width="1.4" />
<line x1="215.20" y1="607.88" x2="222.90" y2="607.88" stroke="#f00" stroke-width="1.4" />
<line x1="211.20" y1="604.43" x2="226.90" y2="604.43" stroke="#000" stroke-width="2.8" />
<circle cx="218.60" cy="601.00" r="3.45" fill="#fff" stroke="#f00" stroke-width="1.35"/>
<circle cx="223.30" cy="604.40" r="3.45" fill="#fff" stroke="#f00" stroke-width="1.35"/>
<circle cx="214.60" cy="607.90" r="3.45" fill="#fff" stroke="#f00" stroke-width="1.35"/>
<line x1="244.55" y1="571.27" x2="244.55" y2="574.26" stroke="#000" stroke-width="1.5" />
<line x1="240.70" y1="571.27" x2="248.40" y2="571.27" stroke="#000" stroke-width="1.4" />
<line x1="240.70" y1="574.26" x2="248.40" y2="574.26" stroke="#000" stroke-width="1.4" />
<line x1="236.70" y1="572.77" x2="252.40" y2="572.77" stroke="#000" stroke-width="2.8" />
<circle cx="240.00" cy="574.00" r="4.0" fill="#000"/>
<circle cx="244.50" cy="571.10" r="4.0" fill="#000"/>
<circle cx="248.60" cy="573.20" r="4.0" fill="#000"/>
<line x1="262.05" y1="641.07" x2="262.05" y2="651.00" stroke="#000" stroke-width="1.5" />
<line x1="258.20" y1="641.07" x2="265.90" y2="641.07" stroke="#000" stroke-width="1.4" />
<line x1="258.20" y1="651.00" x2="265.90" y2="651.00" stroke="#000" stroke-width="1.4" />
<line x1="254.20" y1="646.03" x2="269.90" y2="646.03" stroke="#000" stroke-width="2.8" />
<circle cx="257.80" cy="640.50" r="3.45" fill="#fff" stroke="#000" stroke-width="1.35"/>
<circle cx="266.00" cy="647.50" r="3.45" fill="#fff" stroke="#000" stroke-width="1.35"/>
<circle cx="257.40" cy="650.10" r="3.45" fill="#fff" stroke="#000" stroke-width="1.35"/>
<line x1="279.55" y1="605.00" x2="279.55" y2="607.00" stroke="#f00" stroke-width="1.5" />
<line x1="275.70" y1="605.00" x2="283.40" y2="605.00" stroke="#f00" stroke-width="1.4" />
<line x1="275.70" y1="607.00" x2="283.40" y2="607.00" stroke="#f00" stroke-width="1.4" />
<line x1="271.70" y1="606.00" x2="287.40" y2="606.00" stroke="#000" stroke-width="2.8" />
<circle cx="275.50" cy="607.00" r="4.0" fill="#f00"/>
<circle cx="279.50" cy="605.00" r="4.0" fill="#f00"/>
<circle cx="283.00" cy="606.00" r="4.0" fill="#f00"/>
<line x1="297.05" y1="615.57" x2="297.05" y2="625.90" stroke="#f00" stroke-width="1.5" />
<line x1="293.20" y1="615.57" x2="300.90" y2="615.57" stroke="#f00" stroke-width="1.4" />
<line x1="293.20" y1="625.90" x2="300.90" y2="625.90" stroke="#f00" stroke-width="1.4" />
<line x1="289.20" y1="620.73" x2="304.90" y2="620.73" stroke="#000" stroke-width="2.8" />
<circle cx="296.70" cy="614.80" r="3.45" fill="#fff" stroke="#f00" stroke-width="1.35"/>
<circle cx="292.20" cy="624.20" r="3.45" fill="#fff" stroke="#f00" stroke-width="1.35"/>
<circle cx="301.00" cy="623.20" r="3.45" fill="#fff" stroke="#f00" stroke-width="1.35"/>
<path d="M451.70,552.40 V540.50 H470.90 V642.20" fill="none" stroke="#2a2a2a" stroke-width="1.7"/>
<text x="447.35" y="542.20" font-size="14.5" font-weight="normal" text-anchor="middle" fill="#000" stroke="#000" stroke-width="0.15">*</text>
<text x="456.65" y="542.20" font-size="14.5" font-weight="normal" text-anchor="middle" fill="#000" stroke="#000" stroke-width="0.15">*</text>
<text x="465.95" y="542.20" font-size="14.5" font-weight="normal" text-anchor="middle" fill="#000" stroke="#000" stroke-width="0.15">*</text>
<text x="475.25" y="542.20" font-size="14.5" font-weight="normal" text-anchor="middle" fill="#000" stroke="#000" stroke-width="0.15">*</text>
<path d="M489.60,577.20 V540.50 H508.60 V580.20" fill="none" stroke="#2a2a2a" stroke-width="1.7"/>
<text x="499.10" y="537.60" font-size="11" font-weight="normal" text-anchor="middle" fill="#2a2a2a" stroke="#2a2a2a" stroke-width="0.15">ns</text>
<path d="M470.90,526.60 V512.70 H508.60 V526.60" fill="none" stroke="#2a2a2a" stroke-width="1.7"/>
<text x="475.80" y="515.20" font-size="14.5" font-weight="normal" text-anchor="middle" fill="#000" stroke="#000" stroke-width="0.15">*</text>
<text x="485.10" y="515.20" font-size="14.5" font-weight="normal" text-anchor="middle" fill="#000" stroke="#000" stroke-width="0.15">*</text>
<text x="494.40" y="515.20" font-size="14.5" font-weight="normal" text-anchor="middle" fill="#000" stroke="#000" stroke-width="0.15">*</text>
<text x="503.70" y="515.20" font-size="14.5" font-weight="normal" text-anchor="middle" fill="#000" stroke="#000" stroke-width="0.15">*</text>
<path d="M536.40,558.90 V540.50 H555.40 V625.50" fill="none" stroke="#2a2a2a" stroke-width="1.7"/>
<text x="531.95" y="542.20" font-size="14.5" font-weight="normal" text-anchor="middle" fill="#000" stroke="#000" stroke-width="0.15">*</text>
<text x="541.25" y="542.20" font-size="14.5" font-weight="normal" text-anchor="middle" fill="#000" stroke="#000" stroke-width="0.15">*</text>
<text x="550.55" y="542.20" font-size="14.5" font-weight="normal" text-anchor="middle" fill="#000" stroke="#000" stroke-width="0.15">*</text>
<text x="559.85" y="542.20" font-size="14.5" font-weight="normal" text-anchor="middle" fill="#000" stroke="#000" stroke-width="0.15">*</text>
<path d="M574.40,585.30 V540.50 H593.20 V595.70" fill="none" stroke="#2a2a2a" stroke-width="1.7"/>
<text x="583.80" y="537.60" font-size="11" font-weight="normal" text-anchor="middle" fill="#2a2a2a" stroke="#2a2a2a" stroke-width="0.15">ns</text>
<path d="M555.40,526.40 V512.50 H593.20 V526.40" fill="none" stroke="#2a2a2a" stroke-width="1.7"/>
<text x="560.35" y="515.00" font-size="14.5" font-weight="normal" text-anchor="middle" fill="#000" stroke="#000" stroke-width="0.15">*</text>
<text x="569.65" y="515.00" font-size="14.5" font-weight="normal" text-anchor="middle" fill="#000" stroke="#000" stroke-width="0.15">*</text>
<text x="578.95" y="515.00" font-size="14.5" font-weight="normal" text-anchor="middle" fill="#000" stroke="#000" stroke-width="0.15">*</text>
<text x="588.25" y="515.00" font-size="14.5" font-weight="normal" text-anchor="middle" fill="#000" stroke="#000" stroke-width="0.15">*</text>
<line x1="451.70" y1="556.81" x2="451.70" y2="568.13" stroke="#000" stroke-width="1.5" />
<line x1="447.85" y1="556.81" x2="455.55" y2="556.81" stroke="#000" stroke-width="1.4" />
<line x1="447.85" y1="568.13" x2="455.55" y2="568.13" stroke="#000" stroke-width="1.4" />
<line x1="443.85" y1="562.47" x2="459.55" y2="562.47" stroke="#000" stroke-width="2.8" />
<circle cx="446.80" cy="557.90" r="4.0" fill="#000"/>
<circle cx="457.30" cy="560.70" r="4.0" fill="#000"/>
<circle cx="451.70" cy="568.80" r="4.0" fill="#000"/>
<line x1="470.70" y1="656.48" x2="470.70" y2="665.39" stroke="#000" stroke-width="1.5" />
<line x1="466.85" y1="656.48" x2="474.55" y2="656.48" stroke="#000" stroke-width="1.4" />
<line x1="466.85" y1="665.39" x2="474.55" y2="665.39" stroke="#000" stroke-width="1.4" />
<line x1="462.85" y1="660.93" x2="478.55" y2="660.93" stroke="#000" stroke-width="2.8" />
<circle cx="466.10" cy="656.40" r="3.45" fill="#fff" stroke="#000" stroke-width="1.35"/>
<circle cx="475.70" cy="661.10" r="3.45" fill="#fff" stroke="#000" stroke-width="1.35"/>
<circle cx="466.10" cy="665.30" r="3.45" fill="#fff" stroke="#000" stroke-width="1.35"/>
<line x1="489.70" y1="584.39" x2="489.70" y2="592.87" stroke="#f00" stroke-width="1.5" />
<line x1="485.85" y1="584.39" x2="493.55" y2="584.39" stroke="#f00" stroke-width="1.4" />
<line x1="485.85" y1="592.87" x2="493.55" y2="592.87" stroke="#f00" stroke-width="1.4" />
<line x1="481.85" y1="588.63" x2="497.55" y2="588.63" stroke="#000" stroke-width="2.8" />
<circle cx="484.50" cy="584.10" r="4.0" fill="#f00"/>
<circle cx="494.90" cy="589.30" r="4.0" fill="#f00"/>
<circle cx="484.50" cy="592.50" r="4.0" fill="#f00"/>
<line x1="508.70" y1="588.86" x2="508.70" y2="598.41" stroke="#f00" stroke-width="1.5" />
<line x1="504.85" y1="588.86" x2="512.55" y2="588.86" stroke="#f00" stroke-width="1.4" />
<line x1="504.85" y1="598.41" x2="512.55" y2="598.41" stroke="#f00" stroke-width="1.4" />
<line x1="500.85" y1="593.63" x2="516.55" y2="593.63" stroke="#000" stroke-width="2.8" />
<circle cx="504.00" cy="588.60" r="3.45" fill="#fff" stroke="#f00" stroke-width="1.35"/>
<circle cx="513.70" cy="594.20" r="3.45" fill="#fff" stroke="#f00" stroke-width="1.35"/>
<circle cx="504.00" cy="598.10" r="3.45" fill="#fff" stroke="#f00" stroke-width="1.35"/>
<line x1="536.10" y1="564.46" x2="536.10" y2="576.74" stroke="#000" stroke-width="1.5" />
<line x1="532.25" y1="564.46" x2="539.95" y2="564.46" stroke="#000" stroke-width="1.4" />
<line x1="532.25" y1="576.74" x2="539.95" y2="576.74" stroke="#000" stroke-width="1.4" />
<line x1="528.25" y1="570.60" x2="543.95" y2="570.60" stroke="#000" stroke-width="2.8" />
<circle cx="531.40" cy="564.10" r="4.0" fill="#000"/>
<circle cx="541.50" cy="571.40" r="4.0" fill="#000"/>
<circle cx="531.40" cy="576.30" r="4.0" fill="#000"/>
<line x1="555.10" y1="642.25" x2="555.10" y2="693.49" stroke="#000" stroke-width="1.5" />
<line x1="551.25" y1="642.25" x2="558.95" y2="642.25" stroke="#000" stroke-width="1.4" />
<line x1="551.25" y1="693.49" x2="558.95" y2="693.49" stroke="#000" stroke-width="1.4" />
<line x1="547.25" y1="667.87" x2="562.95" y2="667.87" stroke="#000" stroke-width="2.8" />
<circle cx="555.40" cy="638.30" r="3.45" fill="#fff" stroke="#000" stroke-width="1.35"/>
<circle cx="550.50" cy="683.50" r="3.45" fill="#fff" stroke="#000" stroke-width="1.35"/>
<circle cx="560.00" cy="681.80" r="3.45" fill="#fff" stroke="#000" stroke-width="1.35"/>
<line x1="574.10" y1="593.58" x2="574.10" y2="606.16" stroke="#f00" stroke-width="1.5" />
<line x1="570.25" y1="593.58" x2="577.95" y2="593.58" stroke="#f00" stroke-width="1.4" />
<line x1="570.25" y1="606.16" x2="577.95" y2="606.16" stroke="#f00" stroke-width="1.4" />
<line x1="566.25" y1="599.87" x2="581.95" y2="599.87" stroke="#000" stroke-width="2.8" />
<circle cx="569.20" cy="595.70" r="4.0" fill="#f00"/>
<circle cx="578.90" cy="596.80" r="4.0" fill="#f00"/>
<circle cx="574.10" cy="607.10" r="4.0" fill="#f00"/>
<line x1="593.10" y1="606.11" x2="593.10" y2="616.55" stroke="#f00" stroke-width="1.5" />
<line x1="589.25" y1="606.11" x2="596.95" y2="606.11" stroke="#f00" stroke-width="1.4" />
<line x1="589.25" y1="616.55" x2="596.95" y2="616.55" stroke="#f00" stroke-width="1.4" />
<line x1="585.25" y1="611.33" x2="600.95" y2="611.33" stroke="#000" stroke-width="2.8" />
<circle cx="588.70" cy="607.60" r="3.45" fill="#fff" stroke="#f00" stroke-width="1.35"/>
<circle cx="598.00" cy="609.10" r="3.45" fill="#fff" stroke="#f00" stroke-width="1.35"/>
<circle cx="593.30" cy="617.30" r="3.45" fill="#fff" stroke="#f00" stroke-width="1.35"/>
<path d="M91.60,821.90 V805.00 H108.60 V829.80" fill="none" stroke="#2a2a2a" stroke-width="1.7"/>
<text x="100.10" y="802.10" font-size="11" font-weight="normal" text-anchor="middle" fill="#2a2a2a" stroke="#2a2a2a" stroke-width="0.15">ns</text>
<path d="M126.70,827.20 V805.00 H143.70 V829.50" fill="none" stroke="#2a2a2a" stroke-width="1.7"/>
<text x="135.20" y="802.10" font-size="11" font-weight="normal" text-anchor="middle" fill="#2a2a2a" stroke="#2a2a2a" stroke-width="0.15">ns</text>
<path d="M108.60,792.20 V778.20 H143.70 V792.20" fill="none" stroke="#2a2a2a" stroke-width="1.7"/>
<text x="126.15" y="775.30" font-size="11" font-weight="normal" text-anchor="middle" fill="#2a2a2a" stroke="#2a2a2a" stroke-width="0.15">ns</text>
<path d="M169.30,817.60 V805.00 H186.20 V837.20" fill="none" stroke="#2a2a2a" stroke-width="1.7"/>
<text x="173.10" y="806.70" font-size="14.5" font-weight="normal" text-anchor="middle" fill="#000" stroke="#000" stroke-width="0.15">*</text>
<text x="182.40" y="806.70" font-size="14.5" font-weight="normal" text-anchor="middle" fill="#000" stroke="#000" stroke-width="0.15">*</text>
<path d="M204.00,832.40 V804.90 H222.00 V836.50" fill="none" stroke="#2a2a2a" stroke-width="1.7"/>
<text x="213.00" y="802.00" font-size="11" font-weight="normal" text-anchor="middle" fill="#2a2a2a" stroke="#2a2a2a" stroke-width="0.15">ns</text>
<path d="M186.20,792.60 V778.30 H222.00 V792.60" fill="none" stroke="#2a2a2a" stroke-width="1.7"/>
<text x="204.10" y="775.40" font-size="11" font-weight="normal" text-anchor="middle" fill="#2a2a2a" stroke="#2a2a2a" stroke-width="0.15">ns</text>
<path d="M246.50,816.10 V804.90 H264.30 V837.60" fill="none" stroke="#2a2a2a" stroke-width="1.7"/>
<text x="241.45" y="806.60" font-size="14.5" font-weight="normal" text-anchor="middle" fill="#000" stroke="#000" stroke-width="0.15">*</text>
<text x="250.75" y="806.60" font-size="14.5" font-weight="normal" text-anchor="middle" fill="#000" stroke="#000" stroke-width="0.15">*</text>
<text x="260.05" y="806.60" font-size="14.5" font-weight="normal" text-anchor="middle" fill="#000" stroke="#000" stroke-width="0.15">*</text>
<text x="269.35" y="806.60" font-size="14.5" font-weight="normal" text-anchor="middle" fill="#000" stroke="#000" stroke-width="0.15">*</text>
<path d="M281.70,846.00 V804.90 H299.30 V837.60" fill="none" stroke="#2a2a2a" stroke-width="1.7"/>
<text x="290.50" y="802.00" font-size="11" font-weight="normal" text-anchor="middle" fill="#2a2a2a" stroke="#2a2a2a" stroke-width="0.15">ns</text>
<path d="M264.30,792.60 V778.30 H299.30 V792.60" fill="none" stroke="#2a2a2a" stroke-width="1.7"/>
<text x="281.80" y="775.40" font-size="11" font-weight="normal" text-anchor="middle" fill="#2a2a2a" stroke="#2a2a2a" stroke-width="0.15">ns</text>
<line x1="91.15" y1="831.73" x2="91.15" y2="834.94" stroke="#000" stroke-width="1.5" />
<line x1="87.30" y1="831.73" x2="95.00" y2="831.73" stroke="#000" stroke-width="1.4" />
<line x1="87.30" y1="834.94" x2="95.00" y2="834.94" stroke="#000" stroke-width="1.4" />
<line x1="83.30" y1="833.33" x2="99.00" y2="833.33" stroke="#000" stroke-width="2.8" />
<circle cx="87.00" cy="834.50" r="4.0" fill="#000"/>
<circle cx="91.00" cy="831.50" r="4.0" fill="#000"/>
<circle cx="95.50" cy="834.00" r="4.0" fill="#000"/>
<line x1="108.65" y1="840.98" x2="108.65" y2="846.02" stroke="#000" stroke-width="1.5" />
<line x1="104.80" y1="840.98" x2="112.50" y2="840.98" stroke="#000" stroke-width="1.4" />
<line x1="104.80" y1="846.02" x2="112.50" y2="846.02" stroke="#000" stroke-width="1.4" />
<line x1="100.80" y1="843.50" x2="116.50" y2="843.50" stroke="#000" stroke-width="2.8" />
<circle cx="104.80" cy="845.60" r="3.45" fill="#fff" stroke="#000" stroke-width="1.35"/>
<circle cx="109.20" cy="840.70" r="3.45" fill="#fff" stroke="#000" stroke-width="1.35"/>
<circle cx="113.20" cy="844.20" r="3.45" fill="#fff" stroke="#000" stroke-width="1.35"/>
<line x1="126.15" y1="836.77" x2="126.15" y2="840.56" stroke="#f00" stroke-width="1.5" />
<line x1="122.30" y1="836.77" x2="130.00" y2="836.77" stroke="#f00" stroke-width="1.4" />
<line x1="122.30" y1="840.56" x2="130.00" y2="840.56" stroke="#f00" stroke-width="1.4" />
<line x1="118.30" y1="838.67" x2="134.00" y2="838.67" stroke="#000" stroke-width="2.8" />
<circle cx="123.00" cy="840.00" r="4.0" fill="#f00"/>
<circle cx="126.50" cy="836.50" r="4.0" fill="#f00"/>
<circle cx="130.00" cy="839.50" r="4.0" fill="#f00"/>
<line x1="143.65" y1="840.24" x2="143.65" y2="848.10" stroke="#f00" stroke-width="1.5" />
<line x1="139.80" y1="840.24" x2="147.50" y2="840.24" stroke="#f00" stroke-width="1.4" />
<line x1="139.80" y1="848.10" x2="147.50" y2="848.10" stroke="#f00" stroke-width="1.4" />
<line x1="135.80" y1="844.17" x2="151.50" y2="844.17" stroke="#000" stroke-width="2.8" />
<circle cx="139.50" cy="841.70" r="3.45" fill="#fff" stroke="#f00" stroke-width="1.35"/>
<circle cx="148.60" cy="842.10" r="3.45" fill="#fff" stroke="#f00" stroke-width="1.35"/>
<circle cx="139.80" cy="848.70" r="3.45" fill="#fff" stroke="#f00" stroke-width="1.35"/>
<line x1="169.15" y1="826.31" x2="169.15" y2="829.36" stroke="#000" stroke-width="1.5" />
<line x1="165.30" y1="826.31" x2="173.00" y2="826.31" stroke="#000" stroke-width="1.4" />
<line x1="165.30" y1="829.36" x2="173.00" y2="829.36" stroke="#000" stroke-width="1.4" />
<line x1="161.30" y1="827.83" x2="177.00" y2="827.83" stroke="#000" stroke-width="2.8" />
<circle cx="166.00" cy="829.50" r="4.0" fill="#000"/>
<circle cx="170.00" cy="826.50" r="4.0" fill="#000"/>
<circle cx="173.00" cy="827.50" r="4.0" fill="#000"/>
<line x1="186.65" y1="851.06" x2="186.65" y2="859.87" stroke="#000" stroke-width="1.5" />
<line x1="182.80" y1="851.06" x2="190.50" y2="851.06" stroke="#000" stroke-width="1.4" />
<line x1="182.80" y1="859.87" x2="190.50" y2="859.87" stroke="#000" stroke-width="1.4" />
<line x1="178.80" y1="855.47" x2="194.50" y2="855.47" stroke="#000" stroke-width="2.8" />
<circle cx="182.20" cy="851.20" r="3.45" fill="#fff" stroke="#000" stroke-width="1.35"/>
<circle cx="190.60" cy="855.20" r="3.45" fill="#fff" stroke="#000" stroke-width="1.35"/>
<circle cx="182.20" cy="860.00" r="3.45" fill="#fff" stroke="#000" stroke-width="1.35"/>
<line x1="204.15" y1="843.36" x2="204.15" y2="857.64" stroke="#f00" stroke-width="1.5" />
<line x1="200.30" y1="843.36" x2="208.00" y2="843.36" stroke="#f00" stroke-width="1.4" />
<line x1="200.30" y1="857.64" x2="208.00" y2="857.64" stroke="#f00" stroke-width="1.4" />
<line x1="196.30" y1="850.50" x2="212.00" y2="850.50" stroke="#000" stroke-width="2.8" />
<circle cx="199.50" cy="845.10" r="4.0" fill="#f00"/>
<circle cx="208.70" cy="847.80" r="4.0" fill="#f00"/>
<circle cx="204.00" cy="858.60" r="4.0" fill="#f00"/>
<line x1="221.65" y1="846.41" x2="221.65" y2="857.72" stroke="#f00" stroke-width="1.5" />
<line x1="217.80" y1="846.41" x2="225.50" y2="846.41" stroke="#f00" stroke-width="1.4" />
<line x1="217.80" y1="857.72" x2="225.50" y2="857.72" stroke="#f00" stroke-width="1.4" />
<line x1="213.80" y1="852.07" x2="229.50" y2="852.07" stroke="#000" stroke-width="2.8" />
<circle cx="216.90" cy="848.80" r="3.45" fill="#fff" stroke="#f00" stroke-width="1.35"/>
<circle cx="226.10" cy="848.80" r="3.45" fill="#fff" stroke="#f00" stroke-width="1.35"/>
<circle cx="221.60" cy="858.60" r="3.45" fill="#fff" stroke="#f00" stroke-width="1.35"/>
<line x1="247.15" y1="824.14" x2="247.15" y2="829.86" stroke="#000" stroke-width="1.5" />
<line x1="243.30" y1="824.14" x2="251.00" y2="824.14" stroke="#000" stroke-width="1.4" />
<line x1="243.30" y1="829.86" x2="251.00" y2="829.86" stroke="#000" stroke-width="1.4" />
<line x1="239.30" y1="827.00" x2="255.00" y2="827.00" stroke="#000" stroke-width="2.8" />
<circle cx="241.40" cy="830.00" r="4.0" fill="#000"/>
<circle cx="246.50" cy="824.30" r="4.0" fill="#000"/>
<circle cx="251.00" cy="826.70" r="4.0" fill="#000"/>
<line x1="264.65" y1="848.96" x2="264.65" y2="883.84" stroke="#000" stroke-width="1.5" />
<line x1="260.80" y1="848.96" x2="268.50" y2="848.96" stroke="#000" stroke-width="1.4" />
<line x1="260.80" y1="883.84" x2="268.50" y2="883.84" stroke="#000" stroke-width="1.4" />
<line x1="256.80" y1="866.40" x2="272.50" y2="866.40" stroke="#000" stroke-width="2.8" />
<circle cx="260.30" cy="855.30" r="3.45" fill="#fff" stroke="#000" stroke-width="1.35"/>
<circle cx="268.70" cy="857.40" r="3.45" fill="#fff" stroke="#000" stroke-width="1.35"/>
<circle cx="264.60" cy="886.50" r="3.45" fill="#fff" stroke="#000" stroke-width="1.35"/>
<line x1="282.15" y1="858.06" x2="282.15" y2="861.27" stroke="#f00" stroke-width="1.5" />
<line x1="278.30" y1="858.06" x2="286.00" y2="858.06" stroke="#f00" stroke-width="1.4" />
<line x1="278.30" y1="861.27" x2="286.00" y2="861.27" stroke="#f00" stroke-width="1.4" />
<line x1="274.30" y1="859.67" x2="290.00" y2="859.67" stroke="#000" stroke-width="2.8" />
<circle cx="278.00" cy="861.50" r="4.0" fill="#f00"/>
<circle cx="282.00" cy="859.00" r="4.0" fill="#f00"/>
<circle cx="285.50" cy="858.50" r="4.0" fill="#f00"/>
<line x1="299.65" y1="850.53" x2="299.65" y2="880.93" stroke="#f00" stroke-width="1.5" />
<line x1="295.80" y1="850.53" x2="303.50" y2="850.53" stroke="#f00" stroke-width="1.4" />
<line x1="295.80" y1="880.93" x2="303.50" y2="880.93" stroke="#f00" stroke-width="1.4" />
<line x1="291.80" y1="865.73" x2="307.50" y2="865.73" stroke="#000" stroke-width="2.8" />
<circle cx="299.30" cy="853.10" r="3.45" fill="#fff" stroke="#f00" stroke-width="1.35"/>
<circle cx="299.30" cy="861.50" r="3.45" fill="#fff" stroke="#f00" stroke-width="1.35"/>
<circle cx="299.30" cy="882.60" r="3.45" fill="#fff" stroke="#f00" stroke-width="1.35"/>
<path d="M453.40,816.50 V804.90 H472.20 V836.90" fill="none" stroke="#2a2a2a" stroke-width="1.7"/>
<text x="458.15" y="806.60" font-size="14.5" font-weight="normal" text-anchor="middle" fill="#000" stroke="#000" stroke-width="0.15">*</text>
<text x="467.45" y="806.60" font-size="14.5" font-weight="normal" text-anchor="middle" fill="#000" stroke="#000" stroke-width="0.15">*</text>
<path d="M491.10,832.00 V804.90 H510.30 V836.20" fill="none" stroke="#2a2a2a" stroke-width="1.7"/>
<text x="500.70" y="802.00" font-size="11" font-weight="normal" text-anchor="middle" fill="#2a2a2a" stroke="#2a2a2a" stroke-width="0.15">ns</text>
<path d="M472.20,792.20 V778.40 H510.30 V792.20" fill="none" stroke="#2a2a2a" stroke-width="1.7"/>
<text x="491.25" y="775.50" font-size="11" font-weight="normal" text-anchor="middle" fill="#2a2a2a" stroke="#2a2a2a" stroke-width="0.15">ns</text>
<path d="M537.80,821.00 V804.70 H556.80 V852.20" fill="none" stroke="#2a2a2a" stroke-width="1.7"/>
<text x="533.35" y="806.40" font-size="14.5" font-weight="normal" text-anchor="middle" fill="#000" stroke="#000" stroke-width="0.15">*</text>
<text x="542.65" y="806.40" font-size="14.5" font-weight="normal" text-anchor="middle" fill="#000" stroke="#000" stroke-width="0.15">*</text>
<text x="551.95" y="806.40" font-size="14.5" font-weight="normal" text-anchor="middle" fill="#000" stroke="#000" stroke-width="0.15">*</text>
<text x="561.25" y="806.40" font-size="14.5" font-weight="normal" text-anchor="middle" fill="#000" stroke="#000" stroke-width="0.15">*</text>
<path d="M575.80,844.90 V804.70 H595.20 V852.20" fill="none" stroke="#2a2a2a" stroke-width="1.7"/>
<text x="585.50" y="801.80" font-size="11" font-weight="normal" text-anchor="middle" fill="#2a2a2a" stroke="#2a2a2a" stroke-width="0.15">ns</text>
<path d="M556.80,792.60 V778.00 H595.20 V792.60" fill="none" stroke="#2a2a2a" stroke-width="1.7"/>
<text x="576.00" y="775.10" font-size="11" font-weight="normal" text-anchor="middle" fill="#2a2a2a" stroke="#2a2a2a" stroke-width="0.15">ns</text>
<line x1="453.50" y1="824.56" x2="453.50" y2="839.17" stroke="#000" stroke-width="1.5" />
<line x1="449.65" y1="824.56" x2="457.35" y2="824.56" stroke="#000" stroke-width="1.4" />
<line x1="449.65" y1="839.17" x2="457.35" y2="839.17" stroke="#000" stroke-width="1.4" />
<line x1="445.65" y1="831.87" x2="461.35" y2="831.87" stroke="#000" stroke-width="2.8" />
<circle cx="453.40" cy="824.10" r="4.0" fill="#000"/>
<circle cx="458.00" cy="832.90" r="4.0" fill="#000"/>
<circle cx="448.60" cy="838.60" r="4.0" fill="#000"/>
<line x1="472.50" y1="848.40" x2="472.50" y2="856.27" stroke="#000" stroke-width="1.5" />
<line x1="468.65" y1="848.40" x2="476.35" y2="848.40" stroke="#000" stroke-width="1.4" />
<line x1="468.65" y1="856.27" x2="476.35" y2="856.27" stroke="#000" stroke-width="1.4" />
<line x1="464.65" y1="852.33" x2="480.35" y2="852.33" stroke="#000" stroke-width="2.8" />
<circle cx="467.50" cy="847.80" r="3.45" fill="#fff" stroke="#000" stroke-width="1.35"/>
<circle cx="467.50" cy="854.90" r="3.45" fill="#fff" stroke="#000" stroke-width="1.35"/>
<circle cx="477.10" cy="854.30" r="3.45" fill="#fff" stroke="#000" stroke-width="1.35"/>
<line x1="491.50" y1="843.22" x2="491.50" y2="860.04" stroke="#f00" stroke-width="1.5" />
<line x1="487.65" y1="843.22" x2="495.35" y2="843.22" stroke="#f00" stroke-width="1.4" />
<line x1="487.65" y1="860.04" x2="495.35" y2="860.04" stroke="#f00" stroke-width="1.4" />
<line x1="483.65" y1="851.63" x2="499.35" y2="851.63" stroke="#000" stroke-width="2.8" />
<circle cx="486.30" cy="845.40" r="4.0" fill="#f00"/>
<circle cx="496.10" cy="848.30" r="4.0" fill="#f00"/>
<circle cx="491.10" cy="861.20" r="4.0" fill="#f00"/>
<line x1="510.50" y1="848.42" x2="510.50" y2="861.78" stroke="#f00" stroke-width="1.5" />
<line x1="506.65" y1="848.42" x2="514.35" y2="848.42" stroke="#f00" stroke-width="1.4" />
<line x1="506.65" y1="861.78" x2="514.35" y2="861.78" stroke="#f00" stroke-width="1.4" />
<line x1="502.65" y1="855.10" x2="518.35" y2="855.10" stroke="#000" stroke-width="2.8" />
<circle cx="509.90" cy="847.80" r="3.45" fill="#fff" stroke="#f00" stroke-width="1.35"/>
<circle cx="515.20" cy="856.60" r="3.45" fill="#fff" stroke="#f00" stroke-width="1.35"/>
<circle cx="505.30" cy="860.90" r="3.45" fill="#fff" stroke="#f00" stroke-width="1.35"/>
<line x1="537.90" y1="829.03" x2="537.90" y2="840.23" stroke="#000" stroke-width="1.5" />
<line x1="534.05" y1="829.03" x2="541.75" y2="829.03" stroke="#000" stroke-width="1.4" />
<line x1="534.05" y1="840.23" x2="541.75" y2="840.23" stroke="#000" stroke-width="1.4" />
<line x1="530.05" y1="834.63" x2="545.75" y2="834.63" stroke="#000" stroke-width="2.8" />
<circle cx="532.80" cy="831.40" r="4.0" fill="#000"/>
<circle cx="542.90" cy="831.40" r="4.0" fill="#000"/>
<circle cx="537.80" cy="841.10" r="4.0" fill="#000"/>
<line x1="556.90" y1="867.24" x2="556.90" y2="873.29" stroke="#000" stroke-width="1.5" />
<line x1="553.05" y1="867.24" x2="560.75" y2="867.24" stroke="#000" stroke-width="1.4" />
<line x1="553.05" y1="873.29" x2="560.75" y2="873.29" stroke="#000" stroke-width="1.4" />
<line x1="549.05" y1="870.27" x2="564.75" y2="870.27" stroke="#000" stroke-width="2.8" />
<circle cx="552.10" cy="873.60" r="3.45" fill="#fff" stroke="#000" stroke-width="1.35"/>
<circle cx="556.90" cy="867.70" r="3.45" fill="#fff" stroke="#000" stroke-width="1.35"/>
<circle cx="562.00" cy="869.50" r="3.45" fill="#fff" stroke="#000" stroke-width="1.35"/>
<line x1="575.90" y1="858.46" x2="575.90" y2="878.21" stroke="#f00" stroke-width="1.5" />
<line x1="572.05" y1="858.46" x2="579.75" y2="858.46" stroke="#f00" stroke-width="1.4" />
<line x1="572.05" y1="878.21" x2="579.75" y2="878.21" stroke="#f00" stroke-width="1.4" />
<line x1="568.05" y1="868.33" x2="583.75" y2="868.33" stroke="#000" stroke-width="2.8" />
<circle cx="570.70" cy="861.90" r="4.0" fill="#f00"/>
<circle cx="580.90" cy="863.40" r="4.0" fill="#f00"/>
<circle cx="575.80" cy="879.70" r="4.0" fill="#f00"/>
<line x1="594.90" y1="867.13" x2="594.90" y2="875.00" stroke="#f00" stroke-width="1.5" />
<line x1="591.05" y1="867.13" x2="598.75" y2="867.13" stroke="#f00" stroke-width="1.4" />
<line x1="591.05" y1="875.00" x2="598.75" y2="875.00" stroke="#f00" stroke-width="1.4" />
<line x1="587.05" y1="871.07" x2="602.75" y2="871.07" stroke="#000" stroke-width="2.8" />
<circle cx="595.00" cy="868.00" r="3.45" fill="#fff" stroke="#f00" stroke-width="1.35"/>
<circle cx="600.30" cy="869.70" r="3.45" fill="#fff" stroke="#f00" stroke-width="1.35"/>
<circle cx="590.10" cy="875.50" r="3.45" fill="#fff" stroke="#f00" stroke-width="1.35"/>
</svg>
</body></html>
